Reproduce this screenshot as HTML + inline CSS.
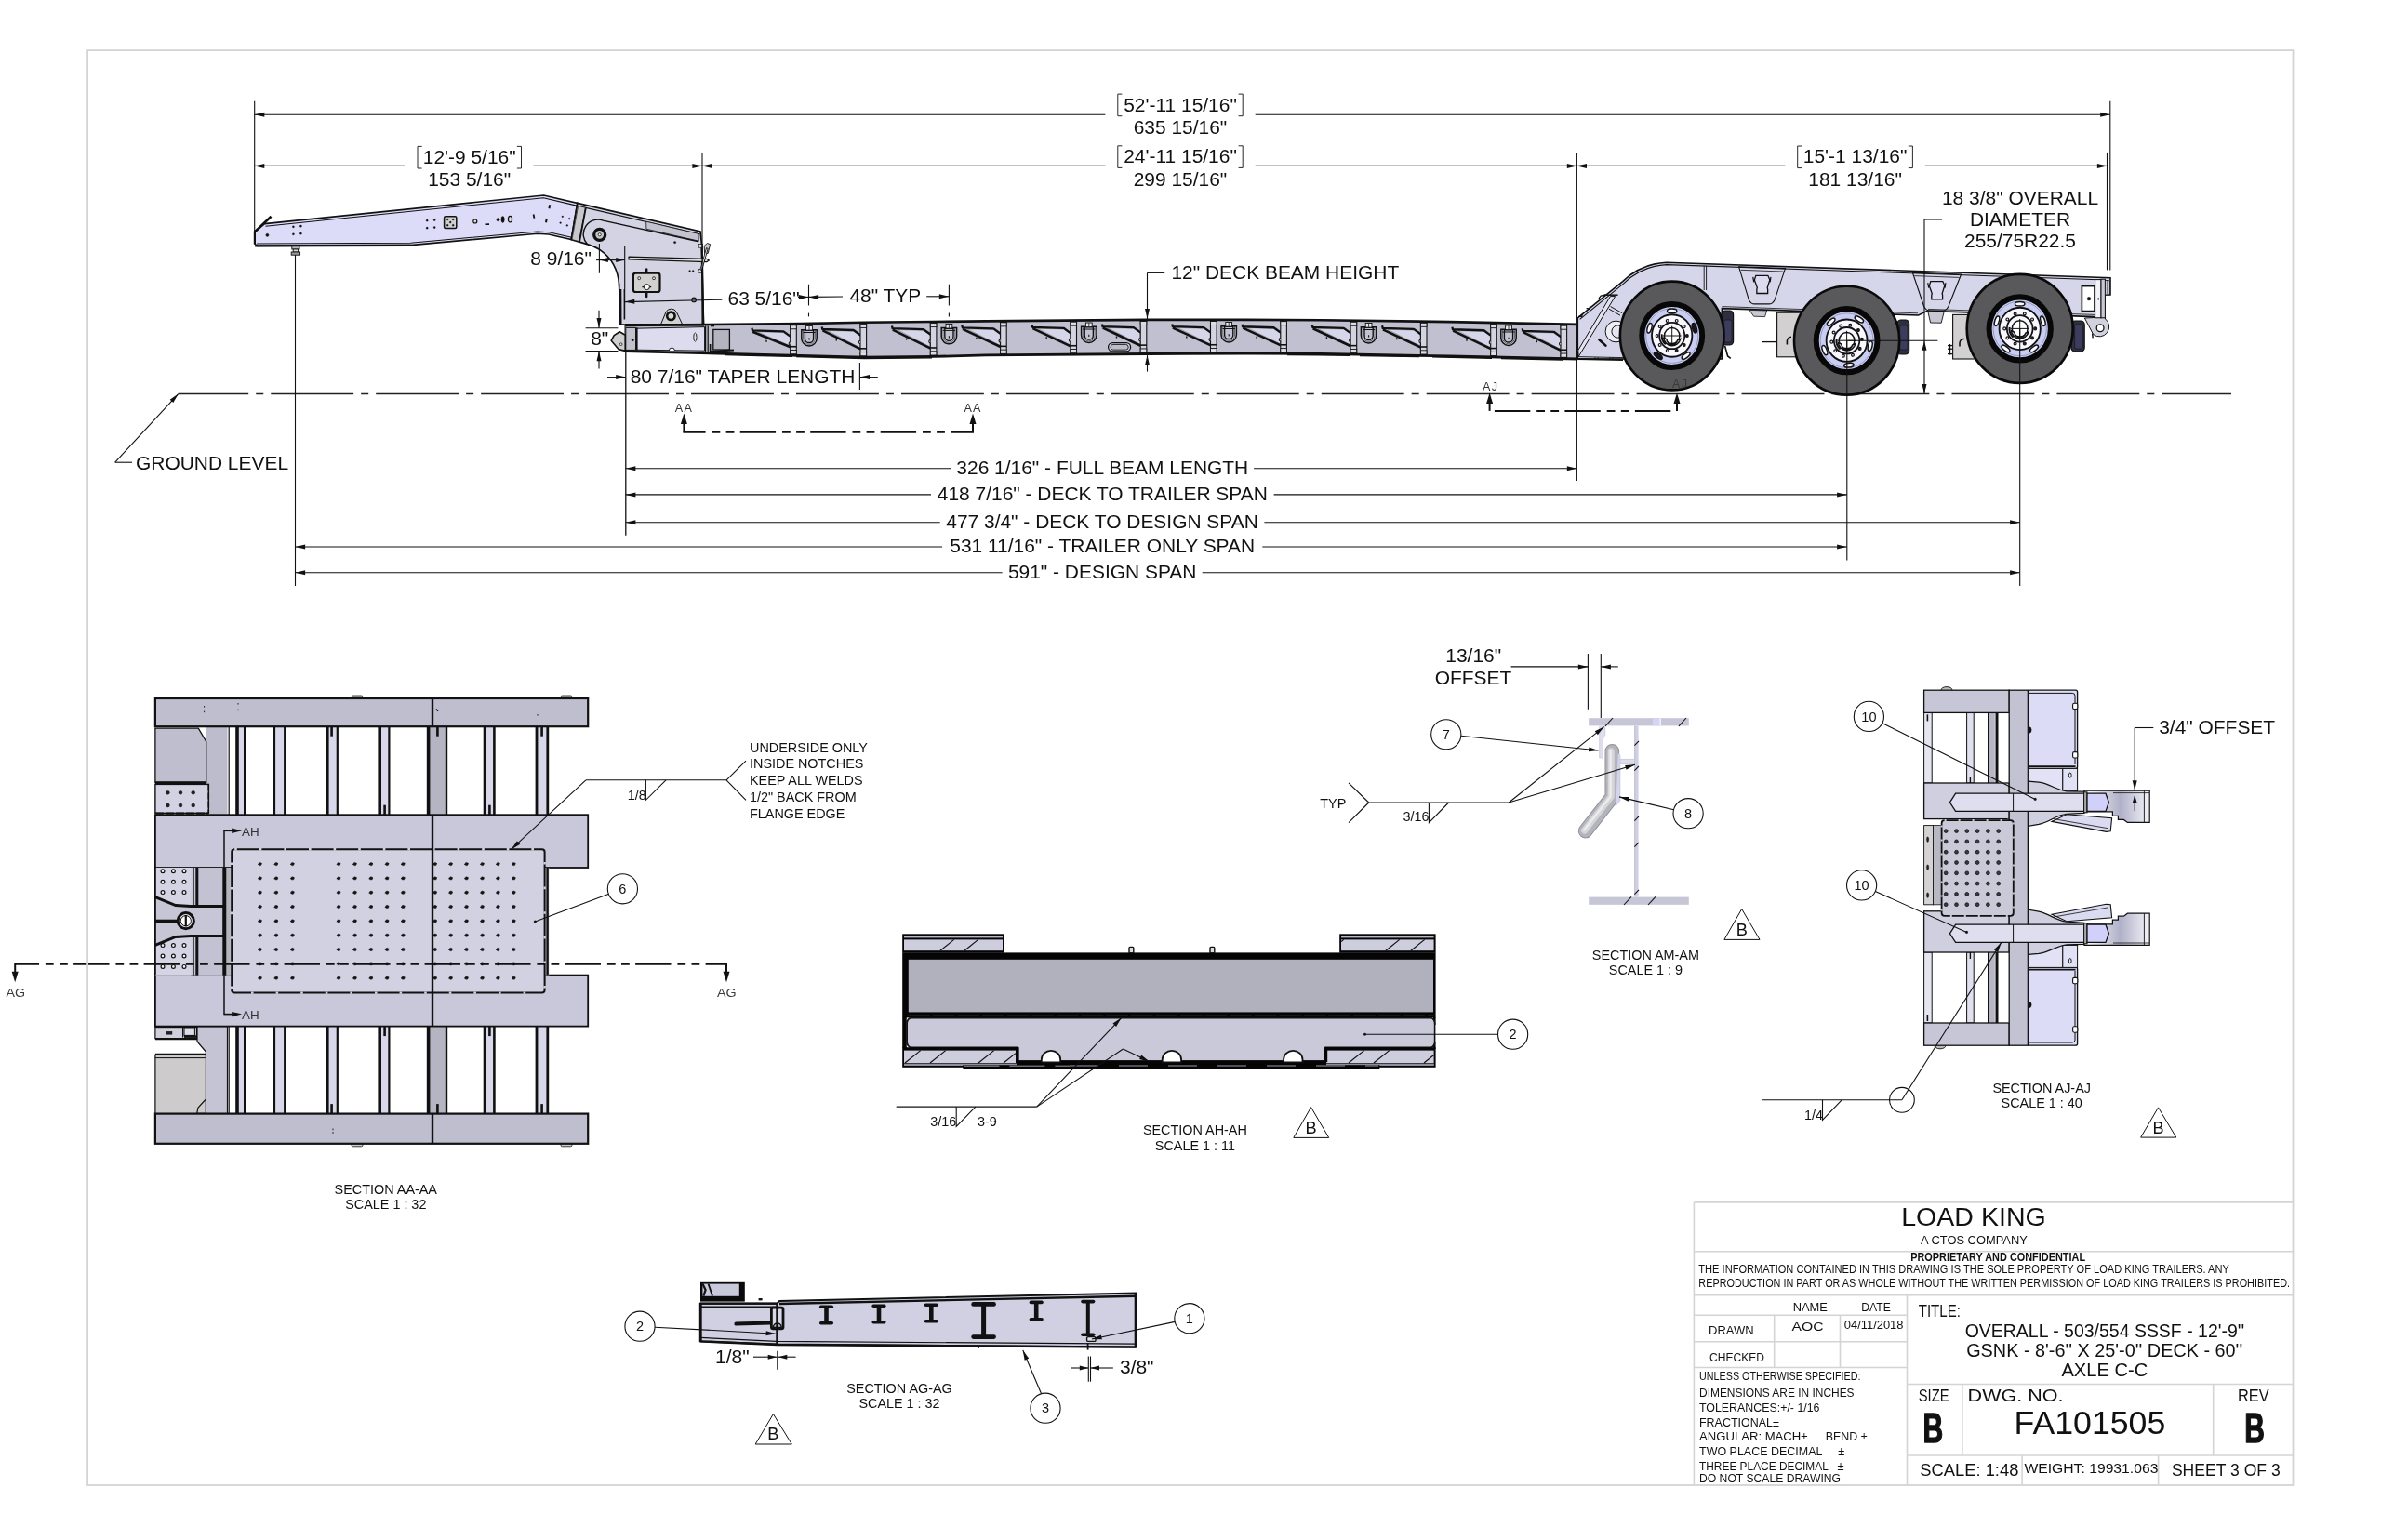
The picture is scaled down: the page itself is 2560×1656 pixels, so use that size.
<!DOCTYPE html>
<html lang="en"><head><meta charset="utf-8"><title>FA101505 - OVERALL - 503/554 SSSF - Sheet 3 of 3</title>
<style>
html,body{margin:0;padding:0;background:#fff;}
body{width:2560px;height:1656px;overflow:hidden;}
svg{display:block;font-family:"Liberation Sans",sans-serif;will-change:transform;}
</style></head><body>
<svg width="2560" height="1656" viewBox="0 0 2560 1656">
<rect x="0" y="0" width="2560" height="1656" fill="#ffffff"/>
<defs><radialGradient id="rim" cx="0.5" cy="0.5" r="0.5"><stop offset="0.55" stop-color="#eef0ff"/><stop offset="0.8" stop-color="#b9bde8"/><stop offset="1" stop-color="#8d90c0"/></radialGradient><linearGradient id="hookg" x1="0" y1="0" x2="1" y2="0"><stop offset="0" stop-color="#a8a8b0"/><stop offset="0.5" stop-color="#e4e4e8"/><stop offset="1" stop-color="#b4b4bc"/></linearGradient><linearGradient id="cylg" x1="0" y1="0" x2="1" y2="0"><stop offset="0" stop-color="#ffffff"/><stop offset="0.55" stop-color="#b0b0c8"/><stop offset="1" stop-color="#f4f4fa"/></linearGradient></defs>
<line x1="191.7" y1="423.6" x2="2399" y2="423.6" stroke="#222" stroke-width="1.5" stroke-dasharray="88.9 8 8.05 8" stroke-dashoffset="13.4"/>
<polygon points="273.8,249 284.5,240.6 584.6,210 620.8,218.4 614.2,257.6 590,252 577.8,251.3 441.6,263.6 276.5,264.4 273.8,262" fill="#dcdcf8" stroke="#111" stroke-width="1.6"/>
<polyline points="285.5,243.2 584.3,212.7 620,221.1" fill="none" stroke="#111" stroke-width="1.1"/>
<polyline points="276,262 441.4,261.2 577.6,249 590.3,249.7 614.6,255.2" fill="none" stroke="#111" stroke-width="1.1"/>
<line x1="274.2" y1="264.4" x2="441.6" y2="263.8" stroke="#111" stroke-width="2.4"/>
<line x1="273.9" y1="248.6" x2="273.9" y2="262.5" stroke="#111" stroke-width="2.2"/>
<line x1="273.8" y1="249.5" x2="291.5" y2="232.8" stroke="#111" stroke-width="2.6"/>
<rect x="313.8" y="264.8" width="8.2" height="3.2" fill="#bbb" stroke="#111" stroke-width="0.9"/>
<rect x="315.2" y="268" width="5.4" height="3" fill="#ddd" stroke="#111" stroke-width="0.9"/>
<rect x="313.2" y="271" width="9.4" height="3.2" fill="#999" stroke="#111" stroke-width="0.9"/>
<circle cx="287.4" cy="252.8" r="1.6" fill="#111" stroke="#111" stroke-width="0.4"/>
<circle cx="315.4" cy="243.8" r="1.1" fill="#111" stroke="#111" stroke-width="0.3"/>
<circle cx="315.4" cy="251.8" r="1.1" fill="#111" stroke="#111" stroke-width="0.3"/>
<circle cx="323.4" cy="243.16" r="1.1" fill="#111" stroke="#111" stroke-width="0.3"/>
<circle cx="323.4" cy="251.16" r="1.1" fill="#111" stroke="#111" stroke-width="0.3"/>
<circle cx="459.2" cy="237.2" r="1.1" fill="#111" stroke="#111" stroke-width="0.3"/>
<circle cx="459.2" cy="245.2" r="1.1" fill="#111" stroke="#111" stroke-width="0.3"/>
<circle cx="467.2" cy="236.56" r="1.1" fill="#111" stroke="#111" stroke-width="0.3"/>
<circle cx="467.2" cy="244.56" r="1.1" fill="#111" stroke="#111" stroke-width="0.3"/>
<rect x="477.6" y="232.8" width="13.2" height="12.6" fill="#d0d0d0" stroke="#111" stroke-width="1.5" rx="1.5"/>
<circle cx="481.2" cy="236" r="1" fill="#111" stroke="#111" stroke-width="0.3"/>
<circle cx="487.2" cy="236" r="1" fill="#111" stroke="#111" stroke-width="0.3"/>
<circle cx="484.2" cy="239.1" r="1" fill="#111" stroke="#111" stroke-width="0.3"/>
<circle cx="481.2" cy="242.2" r="1" fill="#111" stroke="#111" stroke-width="0.3"/>
<circle cx="487.2" cy="242.2" r="1" fill="#111" stroke="#111" stroke-width="0.3"/>
<circle cx="510.8" cy="238" r="2" fill="#ddd" stroke="#111" stroke-width="1.2"/>
<line x1="521.5" y1="241.3" x2="526" y2="241.1" stroke="#111" stroke-width="1.6"/>
<circle cx="535.5" cy="236.2" r="1.6" fill="#111" stroke="#111" stroke-width="0.4"/>
<ellipse cx="540.6" cy="236" rx="1.7" ry="3.4" fill="#111" stroke="#111" stroke-width="0.4"/>
<ellipse cx="548.5" cy="235.6" rx="2.1" ry="3.3" fill="#ddd" stroke="#111" stroke-width="1.2"/>
<line x1="573.6" y1="230.5" x2="574.4" y2="234.6" stroke="#111" stroke-width="1.8"/>
<line x1="591.2" y1="220.2" x2="590.4" y2="224.2" stroke="#111" stroke-width="2"/>
<line x1="587.8" y1="235" x2="587" y2="239.2" stroke="#111" stroke-width="2"/>
<circle cx="604.8" cy="232.8" r="0.9" fill="#111" stroke="#111" stroke-width="0.3"/>
<circle cx="612.2" cy="235.2" r="0.9" fill="#111" stroke="#111" stroke-width="0.3"/>
<circle cx="602.6" cy="239.6" r="0.9" fill="#111" stroke="#111" stroke-width="0.3"/>
<circle cx="609.8" cy="242.4" r="0.9" fill="#111" stroke="#111" stroke-width="0.3"/>
<path d="M620.8,218.4 L753,249 L754.4,262 L756.4,349.2 L666.9,349.2 L665.6,306 C664.6,290 657,277 645,268.6 C640,265.4 634,263.2 628,261.6 L614.2,257.6 Z" fill="#d3d3e3" stroke="#111" stroke-width="1.7" />
<line x1="667" y1="311" x2="667.2" y2="349" stroke="#111" stroke-width="2.6"/>
<line x1="754.6" y1="262" x2="756.2" y2="349" stroke="#111" stroke-width="2.2"/>
<polyline points="620,221.1 752.4,251.8" fill="none" stroke="#111" stroke-width="1.1"/>
<polygon points="621.6,221.4 629.6,223.3 622.8,259.6 615,257.6" fill="#c8c8cc" stroke="#111" stroke-width="0.7"/>
<line x1="629.8" y1="223.3" x2="623" y2="259.8" stroke="#111" stroke-width="1.9"/>
<polygon points="694.7,238.2 751,251.4 751.2,259.2 694.9,246.2" fill="#c4c4d0" stroke="#111" stroke-width="0.8"/>
<path d="M631.4,262.4 A15.6,15.6 0 0 1 648.4,237.2 L751.2,259.8" fill="none" stroke="#111" stroke-width="1.4" />
<circle cx="644.7" cy="252.3" r="6" fill="#c8c8c8" stroke="#111" stroke-width="3.2"/>
<circle cx="644.7" cy="252.3" r="1.6" fill="#eee" stroke="#111" stroke-width="0.8"/>
<circle cx="725.6" cy="260.6" r="1.2" fill="#111" stroke="#111" stroke-width="0.3"/>
<circle cx="741.6" cy="291.4" r="0.9" fill="#111" stroke="#111" stroke-width="0.3"/>
<circle cx="745.2" cy="291.4" r="0.9" fill="#111" stroke="#111" stroke-width="0.3"/>
<circle cx="752.6" cy="291.4" r="2" fill="none" stroke="#111" stroke-width="1"/>
<circle cx="665.4" cy="306.5" r="0.9" fill="#111" stroke="#111" stroke-width="0.3"/>
<polygon points="676,276.2 760,278.4 762.4,280 760,281.6 676,279" fill="#dcdcdc" stroke="#111" stroke-width="1.2" stroke-linejoin="round"/>
<polygon points="757.2,264.4 760.4,261.6 763.6,262.6 761.2,272.4 757.6,272.6" fill="#ccc" stroke="#111" stroke-width="0.9"/>
<line x1="760.4" y1="266.6" x2="753.8" y2="290.4" stroke="#111" stroke-width="2.6"/>
<line x1="760.2" y1="267.4" x2="753.9" y2="289.6" stroke="#ddd" stroke-width="1"/>
<rect x="751.2" y="262.6" width="3.6" height="3.6" fill="#e8e8e8" stroke="#111" stroke-width="0.7"/>
<line x1="695.2" y1="289.4" x2="695.2" y2="319" stroke="#111" stroke-width="2.4" stroke-linecap="round"/>
<rect x="680.9" y="293.6" width="28.6" height="20.4" fill="#d3d1cf" stroke="#111" stroke-width="2.2" rx="2.6"/>
<circle cx="687.2" cy="299.2" r="1.5" fill="#e8e8e8" stroke="#111" stroke-width="0.8"/>
<circle cx="703" cy="299.2" r="1.5" fill="#e8e8e8" stroke="#111" stroke-width="0.8"/>
<line x1="690.4" y1="308.6" x2="700.2" y2="308.6" stroke="#111" stroke-width="1.3"/>
<circle cx="695.4" cy="308.6" r="3" fill="#fff" stroke="#111" stroke-width="1"/>
<circle cx="746.1" cy="322.4" r="2.3" fill="#c0c0c8" stroke="#111" stroke-width="1.1"/>
<path d="M710.4,349 L716,335.6 A6.4,6.4 0 0 1 727.4,335.6 L733.8,349" fill="#d0d0d4" stroke="#111" stroke-width="1" />
<circle cx="721.4" cy="339.8" r="4.2" fill="#d8d8d8" stroke="#111" stroke-width="2.6"/>
<line x1="671.4" y1="311" x2="671.4" y2="343.5" stroke="#111" stroke-width="1.6"/>
<polygon points="672,349.9 860,348.1 928,346.8 1003,346 1060,345.4 1233,343.9 1340,343.9 1420,344.2 1558.6,346.1 1696.3,348.9 1696.3,386 1558.6,382.9 1420,380.4 1340,380 1233,380.5 1060,381.9 1003,383.4 928,384.2 860,382.3 672,377.6" fill="#c0c0d0" stroke="#111" stroke-width="1"/>
<polygon points="683.6,353.2 757.6,351.6 757.6,377.2 683.6,376.2" fill="#dcdcee" stroke="#111" stroke-width="1"/>
<polygon points="672.8,352.4 683.6,352.4 683.6,376.4 672.8,376.4" fill="#c2c2ce" stroke="#111" stroke-width="1"/>
<line x1="684.6" y1="352.4" x2="684.6" y2="376.6" stroke="#111" stroke-width="2"/>
<circle cx="680.2" cy="365.6" r="1.3" fill="#111" stroke="#111" stroke-width="0.3"/>
<ellipse cx="747.4" cy="362.6" rx="1.6" ry="4.6" fill="#e4e4f0" stroke="#111" stroke-width="0.9"/>
<path d="M719.4,377 A3,3 0 0 1 725.4,377" fill="#fff" stroke="#111" stroke-width="0.9" />
<line x1="758.6" y1="350.6" x2="758.6" y2="379.2" stroke="#111" stroke-width="1.2"/>
<line x1="761.2" y1="350.6" x2="761.2" y2="379.2" stroke="#111" stroke-width="1.2"/>
<rect x="766.8" y="354.4" width="17.6" height="21.6" fill="#b4b4c0" stroke="#111" stroke-width="1.3"/>
<line x1="763.6" y1="370" x2="763.6" y2="378.2" stroke="#111" stroke-width="1.6"/>
<line x1="763" y1="378" x2="789" y2="376.4" stroke="#111" stroke-width="2"/>
<line x1="764" y1="350.2" x2="768" y2="350.2" stroke="#111" stroke-width="2.2"/>
<polygon points="657.2,366.2 660.2,360.6 666.2,356.8 672.2,360.2 672.2,377.4 665,375.6" fill="#d0cfcf" stroke="#111" stroke-width="1.6" stroke-linejoin="round"/>
<circle cx="667.6" cy="370.2" r="1.4" fill="#e8e8e8" stroke="#111" stroke-width="0.8"/>
<polygon points="814.4,356.77 842.6,357.57 849.4,362.37 849.4,371.73" fill="#d6d6ea" stroke="#777" stroke-width="0.5"/>
<polyline points="808.4,352.77 809,355.37 842.4,356.37 850.4,362.17" fill="none" stroke="#111" stroke-width="2.3" stroke-linejoin="round"/>
<line x1="809.2" y1="356.77" x2="850" y2="373.32" stroke="#111" stroke-width="2.6"/>
<line x1="824" y1="365.77" x2="824" y2="367.77" stroke="#111" stroke-width="1.4"/>
<rect x="849.7" y="349.37" width="6.6" height="31.76" fill="#d4d4e0" stroke="#111" stroke-width="1.1"/>
<rect x="849.7" y="349.77" width="6.6" height="4" fill="#dcdce4" stroke="#111" stroke-width="0.9"/>
<rect x="849.7" y="376.52" width="6.6" height="4.2" fill="#dcdce4" stroke="#111" stroke-width="0.9"/>
<line x1="849.6" y1="372.73" x2="856.4" y2="372.73" stroke="#111" stroke-width="1.6"/>
<path d="M849.6,367.77 a1.4,1.6 0 0 0 0,3.2" fill="#e4e4ee" stroke="#111" stroke-width="1.1" />
<polygon points="889.7,355.4 917.9,356.2 924.7,361 924.7,373.8" fill="#d6d6ea" stroke="#777" stroke-width="0.5"/>
<polyline points="883.7,351.4 884.3,354 917.7,355 925.7,360.8" fill="none" stroke="#111" stroke-width="2.3" stroke-linejoin="round"/>
<line x1="884.5" y1="355.4" x2="925.3" y2="375.4" stroke="#111" stroke-width="2.6"/>
<line x1="899.3" y1="364.4" x2="899.3" y2="366.4" stroke="#111" stroke-width="1.4"/>
<rect x="925" y="348" width="6.6" height="35.2" fill="#d4d4e0" stroke="#111" stroke-width="1.1"/>
<rect x="925" y="348.4" width="6.6" height="4" fill="#dcdce4" stroke="#111" stroke-width="0.9"/>
<rect x="925" y="378.6" width="6.6" height="4.2" fill="#dcdce4" stroke="#111" stroke-width="0.9"/>
<line x1="924.9" y1="374.8" x2="931.7" y2="374.8" stroke="#111" stroke-width="1.6"/>
<path d="M924.9,366.4 a1.4,1.6 0 0 0 0,3.2" fill="#e4e4ee" stroke="#111" stroke-width="1.1" />
<polygon points="965,354.6 993.2,355.4 1000,360.2 1000,372.98" fill="#d6d6ea" stroke="#777" stroke-width="0.5"/>
<polyline points="959,350.6 959.6,353.2 993,354.2 1001,360" fill="none" stroke="#111" stroke-width="2.3" stroke-linejoin="round"/>
<line x1="959.8" y1="354.6" x2="1000.6" y2="374.58" stroke="#111" stroke-width="2.6"/>
<line x1="974.6" y1="363.6" x2="974.6" y2="365.6" stroke="#111" stroke-width="1.4"/>
<rect x="1000.3" y="347.2" width="6.6" height="35.19" fill="#d4d4e0" stroke="#111" stroke-width="1.1"/>
<rect x="1000.3" y="347.6" width="6.6" height="4" fill="#dcdce4" stroke="#111" stroke-width="0.9"/>
<rect x="1000.3" y="377.78" width="6.6" height="4.2" fill="#dcdce4" stroke="#111" stroke-width="0.9"/>
<line x1="1000.2" y1="373.98" x2="1007" y2="373.98" stroke="#111" stroke-width="1.6"/>
<path d="M1000.2,365.6 a1.4,1.6 0 0 0 0,3.2" fill="#e4e4ee" stroke="#111" stroke-width="1.1" />
<polygon points="1040.3,353.84 1068.5,354.64 1075.3,359.44 1075.3,371.35" fill="#d6d6ea" stroke="#777" stroke-width="0.5"/>
<polyline points="1034.3,349.84 1034.9,352.44 1068.3,353.44 1076.3,359.24" fill="none" stroke="#111" stroke-width="2.3" stroke-linejoin="round"/>
<line x1="1035.1" y1="353.84" x2="1075.9" y2="372.95" stroke="#111" stroke-width="2.6"/>
<line x1="1049.9" y1="362.84" x2="1049.9" y2="364.84" stroke="#111" stroke-width="1.4"/>
<rect x="1075.6" y="346.44" width="6.6" height="34.31" fill="#d4d4e0" stroke="#111" stroke-width="1.1"/>
<rect x="1075.6" y="346.84" width="6.6" height="4" fill="#dcdce4" stroke="#111" stroke-width="0.9"/>
<rect x="1075.6" y="376.15" width="6.6" height="4.2" fill="#dcdce4" stroke="#111" stroke-width="0.9"/>
<line x1="1075.5" y1="372.35" x2="1082.3" y2="372.35" stroke="#111" stroke-width="1.6"/>
<path d="M1075.5,364.84 a1.4,1.6 0 0 0 0,3.2" fill="#e4e4ee" stroke="#111" stroke-width="1.1" />
<polygon points="1115.6,353.18 1143.8,353.98 1150.6,358.78 1150.6,370.74" fill="#d6d6ea" stroke="#777" stroke-width="0.5"/>
<polyline points="1109.6,349.18 1110.2,351.78 1143.6,352.78 1151.6,358.58" fill="none" stroke="#111" stroke-width="2.3" stroke-linejoin="round"/>
<line x1="1110.4" y1="353.18" x2="1151.2" y2="372.34" stroke="#111" stroke-width="2.6"/>
<line x1="1125.2" y1="362.18" x2="1125.2" y2="364.18" stroke="#111" stroke-width="1.4"/>
<rect x="1150.9" y="345.78" width="6.6" height="34.35" fill="#d4d4e0" stroke="#111" stroke-width="1.1"/>
<rect x="1150.9" y="346.18" width="6.6" height="4" fill="#dcdce4" stroke="#111" stroke-width="0.9"/>
<rect x="1150.9" y="375.54" width="6.6" height="4.2" fill="#dcdce4" stroke="#111" stroke-width="0.9"/>
<line x1="1150.8" y1="371.74" x2="1157.6" y2="371.74" stroke="#111" stroke-width="1.6"/>
<path d="M1150.8,364.18 a1.4,1.6 0 0 0 0,3.2" fill="#e4e4ee" stroke="#111" stroke-width="1.1" />
<polygon points="1190.9,352.53 1219.1,353.33 1225.9,358.13 1225.9,370.13" fill="#d6d6ea" stroke="#777" stroke-width="0.5"/>
<polyline points="1184.9,348.53 1185.5,351.13 1218.9,352.13 1226.9,357.93" fill="none" stroke="#111" stroke-width="2.3" stroke-linejoin="round"/>
<line x1="1185.7" y1="352.53" x2="1226.5" y2="371.73" stroke="#111" stroke-width="2.6"/>
<line x1="1200.5" y1="361.53" x2="1200.5" y2="363.53" stroke="#111" stroke-width="1.4"/>
<rect x="1226.2" y="345.13" width="6.6" height="34.4" fill="#d4d4e0" stroke="#111" stroke-width="1.1"/>
<rect x="1226.2" y="345.53" width="6.6" height="4" fill="#dcdce4" stroke="#111" stroke-width="0.9"/>
<rect x="1226.2" y="374.93" width="6.6" height="4.2" fill="#dcdce4" stroke="#111" stroke-width="0.9"/>
<line x1="1226.1" y1="371.13" x2="1232.9" y2="371.13" stroke="#111" stroke-width="1.6"/>
<path d="M1226.1,363.53 a1.4,1.6 0 0 0 0,3.2" fill="#e4e4ee" stroke="#111" stroke-width="1.1" />
<polygon points="1266.2,352.5 1294.4,353.3 1301.2,358.1 1301.2,369.76" fill="#d6d6ea" stroke="#777" stroke-width="0.5"/>
<polyline points="1260.2,348.5 1260.8,351.1 1294.2,352.1 1302.2,357.9" fill="none" stroke="#111" stroke-width="2.3" stroke-linejoin="round"/>
<line x1="1261" y1="352.5" x2="1301.8" y2="371.36" stroke="#111" stroke-width="2.6"/>
<line x1="1275.8" y1="361.5" x2="1275.8" y2="363.5" stroke="#111" stroke-width="1.4"/>
<rect x="1301.5" y="345.1" width="6.6" height="34.06" fill="#d4d4e0" stroke="#111" stroke-width="1.1"/>
<rect x="1301.5" y="345.5" width="6.6" height="4" fill="#dcdce4" stroke="#111" stroke-width="0.9"/>
<rect x="1301.5" y="374.56" width="6.6" height="4.2" fill="#dcdce4" stroke="#111" stroke-width="0.9"/>
<line x1="1301.4" y1="370.76" x2="1308.2" y2="370.76" stroke="#111" stroke-width="1.6"/>
<path d="M1301.4,363.5 a1.4,1.6 0 0 0 0,3.2" fill="#e4e4ee" stroke="#111" stroke-width="1.1" />
<polygon points="1341.5,352.65 1369.7,353.45 1376.5,358.25 1376.5,369.8" fill="#d6d6ea" stroke="#777" stroke-width="0.5"/>
<polyline points="1335.5,348.65 1336.1,351.25 1369.5,352.25 1377.5,358.05" fill="none" stroke="#111" stroke-width="2.3" stroke-linejoin="round"/>
<line x1="1336.3" y1="352.65" x2="1377.1" y2="371.4" stroke="#111" stroke-width="2.6"/>
<line x1="1351.1" y1="361.65" x2="1351.1" y2="363.65" stroke="#111" stroke-width="1.4"/>
<rect x="1376.8" y="345.25" width="6.6" height="33.95" fill="#d4d4e0" stroke="#111" stroke-width="1.1"/>
<rect x="1376.8" y="345.65" width="6.6" height="4" fill="#dcdce4" stroke="#111" stroke-width="0.9"/>
<rect x="1376.8" y="374.6" width="6.6" height="4.2" fill="#dcdce4" stroke="#111" stroke-width="0.9"/>
<line x1="1376.7" y1="370.8" x2="1383.5" y2="370.8" stroke="#111" stroke-width="1.6"/>
<path d="M1376.7,363.65 a1.4,1.6 0 0 0 0,3.2" fill="#e4e4ee" stroke="#111" stroke-width="1.1" />
<polygon points="1416.8,353.29 1445,354.09 1451.8,358.89 1451.8,370.64" fill="#d6d6ea" stroke="#777" stroke-width="0.5"/>
<polyline points="1410.8,349.29 1411.4,351.89 1444.8,352.89 1452.8,358.69" fill="none" stroke="#111" stroke-width="2.3" stroke-linejoin="round"/>
<line x1="1411.6" y1="353.29" x2="1452.4" y2="372.24" stroke="#111" stroke-width="2.6"/>
<line x1="1426.4" y1="362.29" x2="1426.4" y2="364.29" stroke="#111" stroke-width="1.4"/>
<rect x="1452.1" y="345.89" width="6.6" height="34.15" fill="#d4d4e0" stroke="#111" stroke-width="1.1"/>
<rect x="1452.1" y="346.29" width="6.6" height="4" fill="#dcdce4" stroke="#111" stroke-width="0.9"/>
<rect x="1452.1" y="375.44" width="6.6" height="4.2" fill="#dcdce4" stroke="#111" stroke-width="0.9"/>
<line x1="1452" y1="371.64" x2="1458.8" y2="371.64" stroke="#111" stroke-width="1.6"/>
<path d="M1452,364.29 a1.4,1.6 0 0 0 0,3.2" fill="#e4e4ee" stroke="#111" stroke-width="1.1" />
<polygon points="1492.1,354.32 1520.3,355.12 1527.1,359.92 1527.1,372" fill="#d6d6ea" stroke="#777" stroke-width="0.5"/>
<polyline points="1486.1,350.32 1486.7,352.92 1520.1,353.92 1528.1,359.72" fill="none" stroke="#111" stroke-width="2.3" stroke-linejoin="round"/>
<line x1="1486.9" y1="354.32" x2="1527.7" y2="373.6" stroke="#111" stroke-width="2.6"/>
<line x1="1501.7" y1="363.32" x2="1501.7" y2="365.32" stroke="#111" stroke-width="1.4"/>
<rect x="1527.4" y="346.92" width="6.6" height="34.48" fill="#d4d4e0" stroke="#111" stroke-width="1.1"/>
<rect x="1527.4" y="347.32" width="6.6" height="4" fill="#dcdce4" stroke="#111" stroke-width="0.9"/>
<rect x="1527.4" y="376.8" width="6.6" height="4.2" fill="#dcdce4" stroke="#111" stroke-width="0.9"/>
<line x1="1527.3" y1="373" x2="1534.1" y2="373" stroke="#111" stroke-width="1.6"/>
<path d="M1527.3,365.32 a1.4,1.6 0 0 0 0,3.2" fill="#e4e4ee" stroke="#111" stroke-width="1.1" />
<polygon points="1567.4,355.66 1595.6,356.46 1602.4,361.26 1602.4,373.57" fill="#d6d6ea" stroke="#777" stroke-width="0.5"/>
<polyline points="1561.4,351.66 1562,354.26 1595.4,355.26 1603.4,361.06" fill="none" stroke="#111" stroke-width="2.3" stroke-linejoin="round"/>
<line x1="1562.2" y1="355.66" x2="1603" y2="375.17" stroke="#111" stroke-width="2.6"/>
<line x1="1577" y1="364.66" x2="1577" y2="366.66" stroke="#111" stroke-width="1.4"/>
<rect x="1602.7" y="348.26" width="6.6" height="34.7" fill="#d4d4e0" stroke="#111" stroke-width="1.1"/>
<rect x="1602.7" y="348.66" width="6.6" height="4" fill="#dcdce4" stroke="#111" stroke-width="0.9"/>
<rect x="1602.7" y="378.37" width="6.6" height="4.2" fill="#dcdce4" stroke="#111" stroke-width="0.9"/>
<line x1="1602.6" y1="374.57" x2="1609.4" y2="374.57" stroke="#111" stroke-width="1.6"/>
<path d="M1602.6,366.66 a1.4,1.6 0 0 0 0,3.2" fill="#e4e4ee" stroke="#111" stroke-width="1.1" />
<polygon points="1642.7,357.19 1670.9,357.99 1677.7,362.79 1677.7,375.26" fill="#d6d6ea" stroke="#777" stroke-width="0.5"/>
<polyline points="1636.7,353.19 1637.3,355.79 1670.7,356.79 1678.7,362.59" fill="none" stroke="#111" stroke-width="2.3" stroke-linejoin="round"/>
<line x1="1637.5" y1="357.19" x2="1678.3" y2="376.86" stroke="#111" stroke-width="2.6"/>
<line x1="1652.3" y1="366.19" x2="1652.3" y2="368.19" stroke="#111" stroke-width="1.4"/>
<rect x="1678" y="349.79" width="6.6" height="34.87" fill="#d4d4e0" stroke="#111" stroke-width="1.1"/>
<rect x="1678" y="350.19" width="6.6" height="4" fill="#dcdce4" stroke="#111" stroke-width="0.9"/>
<rect x="1678" y="380.06" width="6.6" height="4.2" fill="#dcdce4" stroke="#111" stroke-width="0.9"/>
<line x1="1677.9" y1="376.26" x2="1684.7" y2="376.26" stroke="#111" stroke-width="1.6"/>
<path d="M1677.9,368.19 a1.4,1.6 0 0 0 0,3.2" fill="#e4e4ee" stroke="#111" stroke-width="1.1" />
<path d="M861.8,354.71 v9 a8.2,8.2 0 0 0 16.4,0 v-9 Z" fill="#d6d6e4" stroke="#111" stroke-width="1.5" />
<path d="M865.4,355.31 v8.6 a4.6,4.6 0 0 0 9.2,0 v-8.6 Z" fill="#c2c2d2" stroke="#111" stroke-width="1.4" />
<path d="M863.6,354.91 v9 a6.4,6.4 0 0 0 12.8,0 v-9" fill="none" stroke="#111" stroke-width="0.6" />
<rect x="866.6" y="350.51" width="6.8" height="4.6" fill="#ececf4" stroke="#111" stroke-width="0.9"/>
<line x1="870" y1="350.71" x2="870" y2="354.91" stroke="#111" stroke-width="0.8"/>
<line x1="863.4" y1="357.51" x2="876.6" y2="357.51" stroke="#111" stroke-width="1"/>
<line x1="870" y1="363.31" x2="870" y2="365.51" stroke="#111" stroke-width="1.1"/>
<path d="M1012.2,352.62 v9 a8.2,8.2 0 0 0 16.4,0 v-9 Z" fill="#d6d6e4" stroke="#111" stroke-width="1.5" />
<path d="M1015.8,353.22 v8.6 a4.6,4.6 0 0 0 9.2,0 v-8.6 Z" fill="#c2c2d2" stroke="#111" stroke-width="1.4" />
<path d="M1014,352.82 v9 a6.4,6.4 0 0 0 12.8,0 v-9" fill="none" stroke="#111" stroke-width="0.6" />
<rect x="1017" y="348.42" width="6.8" height="4.6" fill="#ececf4" stroke="#111" stroke-width="0.9"/>
<line x1="1020.4" y1="348.62" x2="1020.4" y2="352.82" stroke="#111" stroke-width="0.8"/>
<line x1="1013.8" y1="355.42" x2="1027" y2="355.42" stroke="#111" stroke-width="1"/>
<line x1="1020.4" y1="361.22" x2="1020.4" y2="363.42" stroke="#111" stroke-width="1.1"/>
<path d="M1162.6,351.24 v9 a8.2,8.2 0 0 0 16.4,0 v-9 Z" fill="#d6d6e4" stroke="#111" stroke-width="1.5" />
<path d="M1166.2,351.84 v8.6 a4.6,4.6 0 0 0 9.2,0 v-8.6 Z" fill="#c2c2d2" stroke="#111" stroke-width="1.4" />
<path d="M1164.4,351.44 v9 a6.4,6.4 0 0 0 12.8,0 v-9" fill="none" stroke="#111" stroke-width="0.6" />
<rect x="1167.4" y="347.04" width="6.8" height="4.6" fill="#ececf4" stroke="#111" stroke-width="0.9"/>
<line x1="1170.8" y1="347.24" x2="1170.8" y2="351.44" stroke="#111" stroke-width="0.8"/>
<line x1="1164.2" y1="354.04" x2="1177.4" y2="354.04" stroke="#111" stroke-width="1"/>
<line x1="1170.8" y1="359.84" x2="1170.8" y2="362.04" stroke="#111" stroke-width="1.1"/>
<path d="M1313,350.7 v9 a8.2,8.2 0 0 0 16.4,0 v-9 Z" fill="#d6d6e4" stroke="#111" stroke-width="1.5" />
<path d="M1316.6,351.3 v8.6 a4.6,4.6 0 0 0 9.2,0 v-8.6 Z" fill="#c2c2d2" stroke="#111" stroke-width="1.4" />
<path d="M1314.8,350.9 v9 a6.4,6.4 0 0 0 12.8,0 v-9" fill="none" stroke="#111" stroke-width="0.6" />
<rect x="1317.8" y="346.5" width="6.8" height="4.6" fill="#ececf4" stroke="#111" stroke-width="0.9"/>
<line x1="1321.2" y1="346.7" x2="1321.2" y2="350.9" stroke="#111" stroke-width="0.8"/>
<line x1="1314.6" y1="353.5" x2="1327.8" y2="353.5" stroke="#111" stroke-width="1"/>
<line x1="1321.2" y1="359.3" x2="1321.2" y2="361.5" stroke="#111" stroke-width="1.1"/>
<path d="M1463.4,351.71 v9 a8.2,8.2 0 0 0 16.4,0 v-9 Z" fill="#d6d6e4" stroke="#111" stroke-width="1.5" />
<path d="M1467,352.31 v8.6 a4.6,4.6 0 0 0 9.2,0 v-8.6 Z" fill="#c2c2d2" stroke="#111" stroke-width="1.4" />
<path d="M1465.2,351.91 v9 a6.4,6.4 0 0 0 12.8,0 v-9" fill="none" stroke="#111" stroke-width="0.6" />
<rect x="1468.2" y="347.51" width="6.8" height="4.6" fill="#ececf4" stroke="#111" stroke-width="0.9"/>
<line x1="1471.6" y1="347.71" x2="1471.6" y2="351.91" stroke="#111" stroke-width="0.8"/>
<line x1="1465" y1="354.51" x2="1478.2" y2="354.51" stroke="#111" stroke-width="1"/>
<line x1="1471.6" y1="360.31" x2="1471.6" y2="362.51" stroke="#111" stroke-width="1.1"/>
<path d="M1613.8,354.19 v9 a8.2,8.2 0 0 0 16.4,0 v-9 Z" fill="#d6d6e4" stroke="#111" stroke-width="1.5" />
<path d="M1617.4,354.79 v8.6 a4.6,4.6 0 0 0 9.2,0 v-8.6 Z" fill="#c2c2d2" stroke="#111" stroke-width="1.4" />
<path d="M1615.6,354.39 v9 a6.4,6.4 0 0 0 12.8,0 v-9" fill="none" stroke="#111" stroke-width="0.6" />
<rect x="1618.6" y="349.99" width="6.8" height="4.6" fill="#ececf4" stroke="#111" stroke-width="0.9"/>
<line x1="1622" y1="350.19" x2="1622" y2="354.39" stroke="#111" stroke-width="0.8"/>
<line x1="1615.4" y1="356.99" x2="1628.6" y2="356.99" stroke="#111" stroke-width="1"/>
<line x1="1622" y1="362.79" x2="1622" y2="364.99" stroke="#111" stroke-width="1.1"/>
<rect x="1191.6" y="368.6" width="24" height="9.4" fill="#d4d4e4" stroke="#111" stroke-width="1.3" rx="4.7"/>
<rect x="1194" y="370.4" width="19.2" height="5.8" fill="#bcbccc" stroke="#111" stroke-width="0.9" rx="2.9"/>
<polyline points="672,349.9 860,348.1 928,346.8 1003,346 1060,345.4 1233,343.9 1340,343.9 1420,344.2 1558.6,346.1 1696.3,348.9" fill="none" stroke="#111" stroke-width="2.6"/>
<polyline points="672,377.6 860,382.3 928,384.2 1003,383.4 1060,381.9 1233,380.5 1340,380 1420,380.4 1558.6,382.9 1696.3,386" fill="none" stroke="#111" stroke-width="2.8"/>
<polyline points="780,381.5 816,382.4 852,383.3" fill="none" stroke="#111" stroke-width="1.6"/>
<polyline points="856,383.4 929,385.39 1002,384.61" fill="none" stroke="#111" stroke-width="1.6"/>
<polyline points="1384,381.42 1418,381.59 1452,382.18" fill="none" stroke="#111" stroke-width="1.6"/>
<polyline points="1462,382.36 1494,382.93 1526,383.51" fill="none" stroke="#111" stroke-width="1.6"/>
<polyline points="1540,383.76 1572,384.4 1604,385.12" fill="none" stroke="#111" stroke-width="1.6"/>
<polyline points="1614,385.35 1647,386.09 1680,386.83" fill="none" stroke="#111" stroke-width="1.6"/>
<line x1="672.6" y1="349.2" x2="757" y2="349.2" stroke="#111" stroke-width="2.4"/>
<path d="M1696.3,386 L1696.3,342 L1744.7,302.6 A73,73 0 0 1 1791.7,282.2 L2269,298.76 L2269,317 L2263,317 L2263,342 L2252.4,340.6 L2072.3,334.4 L2062.5,339 L1932.4,334.4 L1851.4,331.6 L1851.4,386 Z" fill="#d6d6ea" stroke="#111" stroke-width="1.6" />
<path d="M1698.6,343.4 L1746,304.6 A71,71 0 0 1 1791.8,284.6 L2263,300.95" fill="none" stroke="#111" stroke-width="1.1" />
<line x1="1851.4" y1="329.6" x2="1932.4" y2="332.4" stroke="#111" stroke-width="0.8"/>
<line x1="1932.4" y1="332.4" x2="2062" y2="336.8" stroke="#111" stroke-width="0.8"/>
<line x1="2073" y1="332.4" x2="2252" y2="338.4" stroke="#111" stroke-width="0.8"/>
<line x1="1832.2" y1="285.6" x2="1832.2" y2="312" stroke="#111" stroke-width="0.9"/>
<line x1="1834.6" y1="285.67" x2="1834.6" y2="312" stroke="#111" stroke-width="0.9"/>
<polygon points="1696.8,376.5 1731.4,318.6 1736.6,318.6 1697.2,383.5" fill="#e2e2f2" stroke="#111" stroke-width="1"/>
<line x1="1724.6" y1="317.2" x2="1739.6" y2="317.2" stroke="#111" stroke-width="1.5"/>
<line x1="1731.6" y1="329.6" x2="1744" y2="336.6" stroke="#111" stroke-width="1"/>
<line x1="1730" y1="332.2" x2="1742" y2="339.2" stroke="#111" stroke-width="1"/>
<line x1="1719.4" y1="365.2" x2="1726.4" y2="371.6" stroke="#111" stroke-width="2.6" stroke-linecap="round"/>
<polyline points="1697.4,340.2 1700.6,340.6 1701.4,337.6" fill="none" stroke="#111" stroke-width="1.3"/>
<polyline points="1705.6,331.6 1709,332 1709.6,329.2" fill="none" stroke="#111" stroke-width="1.3"/>
<polyline points="1719,321 1721.2,318 1726,317.2" fill="none" stroke="#111" stroke-width="1.3"/>
<circle cx="1737.5" cy="356.5" r="11.4" fill="#eeeef6" stroke="#111" stroke-width="1"/>
<circle cx="1739.5" cy="356.5" r="6.6" fill="#e6e6ee" stroke="#111" stroke-width="1"/>
<line x1="1696.5" y1="383.6" x2="1745" y2="384.6" stroke="#111" stroke-width="0.9"/>
<line x1="1696.5" y1="386" x2="1745" y2="387" stroke="#111" stroke-width="1.8"/>
<line x1="1715" y1="384" x2="1715" y2="386.4" stroke="#111" stroke-width="0.8"/>
<line x1="1718" y1="384" x2="1718" y2="386.4" stroke="#111" stroke-width="0.8"/>
<line x1="1731" y1="384" x2="1731" y2="386.4" stroke="#111" stroke-width="0.8"/>
<line x1="1734" y1="384" x2="1734" y2="386.4" stroke="#111" stroke-width="0.8"/>
<path d="M1869.6,286.9 L1880.3,322.4 Q1882.5,326.9 1886.5,326.9 L1901.9,326.9 Q1905.9,326.9 1908.1,322.4 L1919.5,288.63 Z" fill="none" stroke="#111" stroke-width="1.1" />
<line x1="1871.6" y1="290.3" x2="1917.5" y2="292.03" stroke="#111" stroke-width="0.8"/>
<path d="M1887.85,296.3 h13 l2,4.7 l-2.7,8.5 l0.5,1.5 v4.5 h-11.8 v-4.5 l0.5,-1.5 l-3,-8.5 Z" fill="#dcdcf0" stroke="#111" stroke-width="1.3" />
<path d="M1884.75,297.9 l1,5.5" fill="none" stroke="#111" stroke-width="1.2" />
<path d="M1903.95,297.9 l-0.8,5.5" fill="none" stroke="#111" stroke-width="1.2" />
<path d="M2056.4,293.2 L2068.6,329.5 Q2070.8,334 2074.8,334 L2088.7,334 Q2092.7,334 2094.9,329.5 L2108.6,295.01 Z" fill="none" stroke="#111" stroke-width="1.1" />
<line x1="2058.4" y1="296.6" x2="2106.6" y2="298.41" stroke="#111" stroke-width="0.8"/>
<path d="M2075.8,302.6 h13 l2,4.7 l-2.7,8.5 l0.5,1.5 v4.5 h-11.8 v-4.5 l0.5,-1.5 l-3,-8.5 Z" fill="#dcdcf0" stroke="#111" stroke-width="1.3" />
<path d="M2072.7,304.2 l1,5.5" fill="none" stroke="#111" stroke-width="1.2" />
<path d="M2091.9,304.2 l-0.8,5.5" fill="none" stroke="#111" stroke-width="1.2" />
<polygon points="1881,333.4 1899.6,334 1897.6,340.6 1885.6,340.2" fill="#c8c8d4" stroke="#111" stroke-width="0.8"/>
<polygon points="2072.8,334.8 2090.2,335.2 2087.2,347.2 2075.6,347" fill="#c8c8d4" stroke="#111" stroke-width="0.9"/>
<rect x="1910.6" y="336.2" width="26" height="47.6" fill="#d2d0d0" stroke="#111" stroke-width="1.1"/>
<rect x="2099.6" y="338.4" width="26" height="47.6" fill="#d2d0d0" stroke="#111" stroke-width="1.1"/>
<path d="M1921.4,370.4 v-3.6 a4.6,4.6 0 0 1 4.6,-4.6" fill="none" stroke="#111" stroke-width="1.6" />
<path d="M2107,372.6 v-3.6 a4.6,4.6 0 0 1 4.6,-4.6" fill="none" stroke="#111" stroke-width="1.6" />
<line x1="1894.6" y1="367.6" x2="1910" y2="367.6" stroke="#111" stroke-width="1.3"/>
<line x1="1910" y1="358" x2="1910" y2="372" stroke="#111" stroke-width="1.3"/>
<line x1="2094" y1="371.6" x2="2099" y2="371.6" stroke="#111" stroke-width="1.3"/>
<line x1="2094" y1="375.2" x2="2099" y2="375.2" stroke="#111" stroke-width="1.3"/>
<line x1="2094" y1="380.6" x2="2099" y2="380.6" stroke="#111" stroke-width="1.3"/>
<line x1="2096.6" y1="370" x2="2096.6" y2="381.5" stroke="#111" stroke-width="1.2"/>
<rect x="1851" y="334" width="12.6" height="37" fill="#2e2e3e" stroke="#111" stroke-width="1.2" rx="4"/>
<rect x="1853.6" y="344" width="8.4" height="24" fill="#3c3c5c" stroke="#111" stroke-width="0.6" rx="2"/>
<polyline points="1854.6,372 1857.6,383 1860.8,385.4" fill="none" stroke="#111" stroke-width="1.6"/>
<rect x="2040" y="344" width="12.6" height="37" fill="#2e2e3e" stroke="#111" stroke-width="1.2" rx="4"/>
<rect x="2042.6" y="350" width="8.4" height="26" fill="#3c3c5c" stroke="#111" stroke-width="0.6" rx="2"/>
<rect x="2227" y="345" width="14.2" height="33" fill="#2e2e3e" stroke="#111" stroke-width="1.2" rx="4"/>
<rect x="2230.6" y="349" width="8.6" height="26" fill="#3c3c5c" stroke="#111" stroke-width="0.6" rx="2"/>
<path d="M2241.4,342 L2250.6,359.6 A9.2,9.2 0 1 0 2263.6,343 L2263,341 Z" fill="#d2d2de" stroke="#111" stroke-width="1" />
<circle cx="2258.1" cy="352.8" r="3.9" fill="#fff" stroke="#111" stroke-width="1.3"/>
<line x1="2249.6" y1="358.6" x2="2250.2" y2="363.4" stroke="#111" stroke-width="1.4"/>
<rect x="2252.6" y="300.6" width="6.4" height="41.2" fill="#f2f2f8" stroke="#111" stroke-width="1"/>
<rect x="2259" y="300.2" width="4.4" height="41.6" fill="#c8c8d6" stroke="#111" stroke-width="1"/>
<rect x="2263.4" y="301.4" width="2.6" height="15.6" fill="#c8c8d6" stroke="#111" stroke-width="0.8"/>
<rect x="2266.4" y="301.8" width="2.2" height="15" fill="#c8c8d6" stroke="#111" stroke-width="0.8"/>
<rect x="2238.4" y="307.6" width="13.6" height="27" fill="#fff" stroke="#111" stroke-width="1.7"/>
<circle cx="2246" cy="321.2" r="1.9" fill="#111" stroke="#111" stroke-width="0.3"/>
<circle cx="2256.2" cy="321.4" r="0.9" fill="#111" stroke="#111" stroke-width="0.3"/>
<g transform="translate(1797.7 361) scale(0.9548 1)">
<circle cx="0" cy="0" r="58.45" fill="#59595b" stroke="#0a0a0a" stroke-width="2.7"/>
<circle cx="0" cy="0" r="34" fill="#c9cdf1" stroke="#080808" stroke-width="6.2"/>
<circle cx="0" cy="0" r="29.4" fill="none" stroke="#7d80a8" stroke-width="0.7"/>
<circle cx="0" cy="0" r="22.7" fill="#f7f7fd" stroke="#111" stroke-width="1.9"/>
<ellipse cx="0" cy="-26.6" rx="2.3" ry="5.4" fill="#fbfbff" stroke="#111" stroke-width="1.5" transform="rotate(-90 0 -26.6)"/>
<ellipse cx="25.3" cy="-8.22" rx="2.3" ry="5.4" fill="#16161c" stroke="#111" stroke-width="1.5" transform="rotate(-18 25.3 -8.22)"/>
<ellipse cx="15.64" cy="21.52" rx="2.3" ry="5.4" fill="#fbfbff" stroke="#111" stroke-width="1.5" transform="rotate(54 15.64 21.52)"/>
<ellipse cx="-15.64" cy="21.52" rx="2.3" ry="5.4" fill="#16161c" stroke="#111" stroke-width="1.5" transform="rotate(126 -15.64 21.52)"/>
<ellipse cx="-25.3" cy="-8.22" rx="2.3" ry="5.4" fill="#fbfbff" stroke="#111" stroke-width="1.5" transform="rotate(198 -25.3 -8.22)"/>
<circle cx="0" cy="0" r="14.2" fill="none" stroke="#111" stroke-width="1.8"/>
<circle cx="5.22" cy="-16.07" r="1.45" fill="#ececf2" stroke="#111" stroke-width="1.2"/>
<circle cx="13.67" cy="-9.93" r="1.45" fill="#ececf2" stroke="#111" stroke-width="1.2"/>
<circle cx="16.9" cy="0" r="1.45" fill="#2a2a2a" stroke="#111" stroke-width="1.2"/>
<circle cx="13.67" cy="9.93" r="1.45" fill="#2a2a2a" stroke="#111" stroke-width="1.2"/>
<circle cx="5.22" cy="16.07" r="1.45" fill="#2a2a2a" stroke="#111" stroke-width="1.2"/>
<circle cx="-5.22" cy="16.07" r="1.45" fill="#ececf2" stroke="#111" stroke-width="1.2"/>
<circle cx="-13.67" cy="9.93" r="1.45" fill="#ececf2" stroke="#111" stroke-width="1.2"/>
<circle cx="-16.9" cy="0" r="1.45" fill="#ececf2" stroke="#111" stroke-width="1.2"/>
<circle cx="-13.67" cy="-9.93" r="1.45" fill="#ececf2" stroke="#111" stroke-width="1.2"/>
<circle cx="-5.22" cy="-16.07" r="1.45" fill="#ececf2" stroke="#111" stroke-width="1.2"/>
<circle cx="0" cy="0" r="8.6" fill="#ffffff" stroke="#111" stroke-width="1.5"/>
<path d="M-9.6,2.2 a9.8,9.8 0 0 0 19.2,1.2 l-3.4,1.4 a6.2,6.2 0 0 1 -12.2,-1 Z" fill="#d4d6f2" stroke="#111" stroke-width="1.5" />
<path d="M-11.4,-1.6 a11.6,11.6 0 0 0 4.2,10.8" fill="none" stroke="#111" stroke-width="2" />
<line x1="-10.4" y1="0" x2="10.4" y2="0" stroke="#111" stroke-width="1"/>
<line x1="0" y1="-10.4" x2="0" y2="10.4" stroke="#111" stroke-width="1"/>
</g>
<g transform="translate(1985.6 366.2) scale(0.9682 1)">
<circle cx="0" cy="0" r="58.45" fill="#59595b" stroke="#0a0a0a" stroke-width="2.7"/>
<circle cx="0" cy="0" r="34" fill="#c9cdf1" stroke="#080808" stroke-width="6.2"/>
<circle cx="0" cy="0" r="29.4" fill="none" stroke="#7d80a8" stroke-width="0.7"/>
<circle cx="0" cy="0" r="22.7" fill="#f7f7fd" stroke="#111" stroke-width="1.9"/>
<ellipse cx="-17.45" cy="-20.08" rx="2.3" ry="5.4" fill="#fbfbff" stroke="#111" stroke-width="1.5" transform="rotate(-131 -17.45 -20.08)"/>
<ellipse cx="13.7" cy="-22.8" rx="2.3" ry="5.4" fill="#fbfbff" stroke="#111" stroke-width="1.5" transform="rotate(-59 13.7 -22.8)"/>
<ellipse cx="25.92" cy="5.98" rx="2.3" ry="5.4" fill="#fbfbff" stroke="#111" stroke-width="1.5" transform="rotate(13 25.92 5.98)"/>
<ellipse cx="2.32" cy="26.5" rx="2.3" ry="5.4" fill="#fbfbff" stroke="#111" stroke-width="1.5" transform="rotate(85 2.32 26.5)"/>
<ellipse cx="-24.49" cy="10.39" rx="2.3" ry="5.4" fill="#fbfbff" stroke="#111" stroke-width="1.5" transform="rotate(157 -24.49 10.39)"/>
<circle cx="0" cy="0" r="14.2" fill="none" stroke="#111" stroke-width="1.8"/>
<circle cx="-6.6" cy="-15.56" r="1.45" fill="#ececf2" stroke="#111" stroke-width="1.2"/>
<circle cx="3.8" cy="-16.47" r="1.45" fill="#ececf2" stroke="#111" stroke-width="1.2"/>
<circle cx="12.75" cy="-11.09" r="1.45" fill="#2a2a2a" stroke="#111" stroke-width="1.2"/>
<circle cx="16.84" cy="-1.47" r="1.45" fill="#2a2a2a" stroke="#111" stroke-width="1.2"/>
<circle cx="14.49" cy="8.7" r="1.45" fill="#2a2a2a" stroke="#111" stroke-width="1.2"/>
<circle cx="6.6" cy="15.56" r="1.45" fill="#ececf2" stroke="#111" stroke-width="1.2"/>
<circle cx="-3.8" cy="16.47" r="1.45" fill="#ececf2" stroke="#111" stroke-width="1.2"/>
<circle cx="-12.75" cy="11.09" r="1.45" fill="#ececf2" stroke="#111" stroke-width="1.2"/>
<circle cx="-16.84" cy="1.47" r="1.45" fill="#ececf2" stroke="#111" stroke-width="1.2"/>
<circle cx="-14.49" cy="-8.7" r="1.45" fill="#ececf2" stroke="#111" stroke-width="1.2"/>
<circle cx="0" cy="0" r="8.6" fill="#ffffff" stroke="#111" stroke-width="1.5"/>
<path d="M-9.6,2.2 a9.8,9.8 0 0 0 19.2,1.2 l-3.4,1.4 a6.2,6.2 0 0 1 -12.2,-1 Z" fill="#d4d6f2" stroke="#111" stroke-width="1.5" />
<path d="M-11.4,-1.6 a11.6,11.6 0 0 0 4.2,10.8" fill="none" stroke="#111" stroke-width="2" />
<line x1="-10.4" y1="0" x2="10.4" y2="0" stroke="#111" stroke-width="1"/>
<line x1="0" y1="-10.4" x2="0" y2="10.4" stroke="#111" stroke-width="1"/>
</g>
<g transform="translate(2171.7 353.4) scale(0.9749 1)">
<circle cx="0" cy="0" r="58.45" fill="#59595b" stroke="#0a0a0a" stroke-width="2.7"/>
<circle cx="0" cy="0" r="34" fill="#c9cdf1" stroke="#080808" stroke-width="6.2"/>
<circle cx="0" cy="0" r="29.4" fill="none" stroke="#7d80a8" stroke-width="0.7"/>
<circle cx="0" cy="0" r="22.7" fill="#f7f7fd" stroke="#111" stroke-width="1.9"/>
<ellipse cx="0" cy="-26.6" rx="2.3" ry="5.4" fill="#fbfbff" stroke="#111" stroke-width="1.5" transform="rotate(-90 0 -26.6)"/>
<ellipse cx="25.3" cy="-8.22" rx="2.3" ry="5.4" fill="#fbfbff" stroke="#111" stroke-width="1.5" transform="rotate(-18 25.3 -8.22)"/>
<ellipse cx="15.64" cy="21.52" rx="2.3" ry="5.4" fill="#fbfbff" stroke="#111" stroke-width="1.5" transform="rotate(54 15.64 21.52)"/>
<ellipse cx="-15.64" cy="21.52" rx="2.3" ry="5.4" fill="#fbfbff" stroke="#111" stroke-width="1.5" transform="rotate(126 -15.64 21.52)"/>
<ellipse cx="-25.3" cy="-8.22" rx="2.3" ry="5.4" fill="#fbfbff" stroke="#111" stroke-width="1.5" transform="rotate(198 -25.3 -8.22)"/>
<circle cx="0" cy="0" r="14.2" fill="none" stroke="#111" stroke-width="1.8"/>
<circle cx="5.22" cy="-16.07" r="1.45" fill="#ececf2" stroke="#111" stroke-width="1.2"/>
<circle cx="13.67" cy="-9.93" r="1.45" fill="#ececf2" stroke="#111" stroke-width="1.2"/>
<circle cx="16.9" cy="0" r="1.45" fill="#2a2a2a" stroke="#111" stroke-width="1.2"/>
<circle cx="13.67" cy="9.93" r="1.45" fill="#2a2a2a" stroke="#111" stroke-width="1.2"/>
<circle cx="5.22" cy="16.07" r="1.45" fill="#2a2a2a" stroke="#111" stroke-width="1.2"/>
<circle cx="-5.22" cy="16.07" r="1.45" fill="#ececf2" stroke="#111" stroke-width="1.2"/>
<circle cx="-13.67" cy="9.93" r="1.45" fill="#ececf2" stroke="#111" stroke-width="1.2"/>
<circle cx="-16.9" cy="0" r="1.45" fill="#ececf2" stroke="#111" stroke-width="1.2"/>
<circle cx="-13.67" cy="-9.93" r="1.45" fill="#ececf2" stroke="#111" stroke-width="1.2"/>
<circle cx="-5.22" cy="-16.07" r="1.45" fill="#ececf2" stroke="#111" stroke-width="1.2"/>
<circle cx="0" cy="0" r="8.6" fill="#ffffff" stroke="#111" stroke-width="1.5"/>
<path d="M-9.6,2.2 a9.8,9.8 0 0 0 19.2,1.2 l-3.4,1.4 a6.2,6.2 0 0 1 -12.2,-1 Z" fill="#d4d6f2" stroke="#111" stroke-width="1.5" />
<path d="M-11.4,-1.6 a11.6,11.6 0 0 0 4.2,10.8" fill="none" stroke="#111" stroke-width="2" />
<line x1="-10.4" y1="0" x2="10.4" y2="0" stroke="#111" stroke-width="1"/>
<line x1="0" y1="-10.4" x2="0" y2="10.4" stroke="#111" stroke-width="1"/>
</g>
<line x1="273.7" y1="108.8" x2="273.7" y2="249" stroke="#111" stroke-width="1.1"/>
<line x1="755" y1="163.9" x2="755" y2="349" stroke="#111" stroke-width="1.1"/>
<line x1="1695.4" y1="163.9" x2="1695.4" y2="517" stroke="#111" stroke-width="1.1"/>
<line x1="2268.8" y1="108.8" x2="2268.8" y2="290.4" stroke="#111" stroke-width="1.1"/>
<line x1="2265.5" y1="163.9" x2="2265.5" y2="290.4" stroke="#111" stroke-width="1.1"/>
<line x1="273.7" y1="123.3" x2="1188.4" y2="123.3" stroke="#111" stroke-width="1.1"/>
<line x1="1349.7" y1="123.3" x2="2268.8" y2="123.3" stroke="#111" stroke-width="1.1"/>
<polygon points="273.7,123.3 284.3,120.8 284.3,125.8" fill="#111"/>
<polygon points="2268.8,123.3 2258.2,125.8 2258.2,120.8" fill="#111"/>
<text x="1269" y="119.5" font-size="20.95" fill="#111" text-anchor="middle">52'-11 15/16&quot;</text>
<text x="1269" y="144.3" font-size="20.95" fill="#111" text-anchor="middle">635 15/16&quot;</text>
<polyline points="1206.4,101.1 1201.8,101.1 1201.8,124.7 1206.4,124.7" fill="none" stroke="#111" stroke-width="0.9"/>
<polyline points="1331.6,101.1 1336.2,101.1 1336.2,124.7 1331.6,124.7" fill="none" stroke="#111" stroke-width="0.9"/>
<line x1="273.7" y1="178.4" x2="435" y2="178.4" stroke="#111" stroke-width="1.1"/>
<line x1="573.4" y1="178.4" x2="755" y2="178.4" stroke="#111" stroke-width="1.1"/>
<polygon points="273.7,178.4 284.3,175.9 284.3,180.9" fill="#111"/>
<polygon points="755,178.4 744.4,180.9 744.4,175.9" fill="#111"/>
<text x="504.7" y="175.8" font-size="20.95" fill="#111" text-anchor="middle">12'-9 5/16&quot;</text>
<text x="504.7" y="200.1" font-size="20.95" fill="#111" text-anchor="middle">153 5/16&quot;</text>
<polyline points="453.6,157.4 449,157.4 449,181 453.6,181" fill="none" stroke="#111" stroke-width="0.9"/>
<polyline points="555.9,157.4 560.5,157.4 560.5,181 555.9,181" fill="none" stroke="#111" stroke-width="0.9"/>
<line x1="755" y1="178.4" x2="1188.4" y2="178.4" stroke="#111" stroke-width="1.1"/>
<line x1="1349.7" y1="178.4" x2="1695.4" y2="178.4" stroke="#111" stroke-width="1.1"/>
<polygon points="755,178.4 765.6,175.9 765.6,180.9" fill="#111"/>
<polygon points="1695.4,178.4 1684.8,180.9 1684.8,175.9" fill="#111"/>
<text x="1269" y="175.2" font-size="20.95" fill="#111" text-anchor="middle">24'-11 15/16&quot;</text>
<text x="1269" y="199.7" font-size="20.95" fill="#111" text-anchor="middle">299 15/16&quot;</text>
<polyline points="1206.4,156.8 1201.8,156.8 1201.8,180.4 1206.4,180.4" fill="none" stroke="#111" stroke-width="0.9"/>
<polyline points="1331.6,156.8 1336.2,156.8 1336.2,180.4 1331.6,180.4" fill="none" stroke="#111" stroke-width="0.9"/>
<line x1="1695.4" y1="178.4" x2="1919.3" y2="178.4" stroke="#111" stroke-width="1.1"/>
<line x1="2069.8" y1="178.4" x2="2265.5" y2="178.4" stroke="#111" stroke-width="1.1"/>
<polygon points="1695.4,178.4 1706,175.9 1706,180.9" fill="#111"/>
<polygon points="2265.5,178.4 2254.9,180.9 2254.9,175.9" fill="#111"/>
<text x="1994.6" y="175.4" font-size="20.95" fill="#111" text-anchor="middle">15'-1 13/16&quot;</text>
<text x="1994.6" y="199.7" font-size="20.95" fill="#111" text-anchor="middle">181 13/16&quot;</text>
<polyline points="1937.3,157 1932.7,157 1932.7,180.6 1937.3,180.6" fill="none" stroke="#111" stroke-width="0.9"/>
<polyline points="2051.8,157 2056.4,157 2056.4,180.6 2051.8,180.6" fill="none" stroke="#111" stroke-width="0.9"/>
<text x="2172" y="219.5" font-size="20.95" fill="#111" text-anchor="middle">18 3/8&quot; OVERALL</text>
<text x="2172" y="242.6" font-size="20.95" fill="#111" text-anchor="middle">DIAMETER</text>
<text x="2172" y="266" font-size="20.95" fill="#111" text-anchor="middle">255/75R22.5</text>
<line x1="2069" y1="236" x2="2088" y2="236" stroke="#111" stroke-width="1.1"/>
<line x1="2069" y1="236" x2="2069" y2="423.6" stroke="#111" stroke-width="1.1"/>
<polygon points="2069,423.6 2066.5,413 2071.5,413" fill="#111"/>
<polygon points="2069,366.2 2071.5,376.8 2066.5,376.8" fill="#111"/>
<line x1="1986.4" y1="366.2" x2="2083.4" y2="366.2" stroke="#111" stroke-width="1.1"/>
<line x1="1985.8" y1="366" x2="1985.8" y2="602.6" stroke="#111" stroke-width="1.1"/>
<line x1="2171.7" y1="353" x2="2171.7" y2="630" stroke="#111" stroke-width="1.1"/>
<text x="1259.4" y="300.2" font-size="20.95" fill="#111">12&quot; DECK BEAM HEIGHT</text>
<line x1="1233.5" y1="293.4" x2="1252.2" y2="293.4" stroke="#111" stroke-width="1.1"/>
<line x1="1233.5" y1="293.4" x2="1233.5" y2="342.9" stroke="#111" stroke-width="1.1"/>
<polygon points="1233.5,342.7 1231,332.1 1236,332.1" fill="#111"/>
<line x1="1233.5" y1="382.1" x2="1233.5" y2="399.6" stroke="#111" stroke-width="1.1"/>
<polygon points="1233.5,382.1 1236,392.7 1231,392.7" fill="#111"/>
<text x="570.3" y="285.4" font-size="20.95" fill="#111">8 9/16&quot;</text>
<line x1="644.4" y1="261.9" x2="644.4" y2="293.7" stroke="#111" stroke-width="1.1"/>
<line x1="671.7" y1="264.9" x2="671.7" y2="311" stroke="#111" stroke-width="1.1"/>
<line x1="641" y1="279.6" x2="671.7" y2="279.6" stroke="#111" stroke-width="1.1"/>
<polygon points="644.4,279.6 653.9,277.1 653.9,282.1" fill="#111"/>
<polygon points="671.7,279.6 662.2,282.1 662.2,277.1" fill="#111"/>
<line x1="671.7" y1="324.6" x2="776.4" y2="322.2" stroke="#111" stroke-width="1.1"/>
<polygon points="671.7,324.6 682.24,321.86 682.35,326.86" fill="#111"/>
<text x="782.5" y="327.9" font-size="20.95" fill="#111">63 5/16&quot;</text>
<polygon points="869.5,319.4 858.9,321.9 858.9,316.9" fill="#111"/>
<line x1="858" y1="319.4" x2="869.5" y2="319.4" stroke="#111" stroke-width="1.1"/>
<line x1="869.5" y1="305.8" x2="869.5" y2="328.5" stroke="#111" stroke-width="1.1"/>
<line x1="1020.4" y1="305.8" x2="1020.4" y2="328.5" stroke="#111" stroke-width="1.1"/>
<line x1="869.5" y1="336.6" x2="869.5" y2="340.4" stroke="#111" stroke-width="1.1"/>
<line x1="1020.4" y1="336.6" x2="1020.4" y2="340.4" stroke="#111" stroke-width="1.1"/>
<line x1="869.5" y1="319.4" x2="906" y2="319" stroke="#111" stroke-width="1.1"/>
<polygon points="869.5,319.4 880.1,316.9 880.1,321.9" fill="#111"/>
<line x1="996.2" y1="318.8" x2="1020.4" y2="318.8" stroke="#111" stroke-width="1.1"/>
<polygon points="1020.4,318.8 1009.8,321.3 1009.8,316.3" fill="#111"/>
<text x="913.4" y="325.3" font-size="20.95" fill="#111">48&quot; TYP</text>
<line x1="629.6" y1="352.7" x2="664.4" y2="352.7" stroke="#111" stroke-width="1.1"/>
<line x1="629.6" y1="377.6" x2="664.4" y2="377.6" stroke="#111" stroke-width="1.1"/>
<line x1="644" y1="333.8" x2="644" y2="352.7" stroke="#111" stroke-width="1.1"/>
<polygon points="644,352.7 641.5,342.1 646.5,342.1" fill="#111"/>
<line x1="644" y1="377.6" x2="644" y2="396.6" stroke="#111" stroke-width="1.1"/>
<polygon points="644,377.6 646.5,388.2 641.5,388.2" fill="#111"/>
<text x="635.2" y="370.8" font-size="20.95" fill="#111">8&quot;</text>
<line x1="672.8" y1="377" x2="672.8" y2="575.7" stroke="#111" stroke-width="1.3"/>
<line x1="653" y1="405.6" x2="672.8" y2="405.6" stroke="#111" stroke-width="1.1"/>
<polygon points="672.8,405.6 662.2,408.1 662.2,403.1" fill="#111"/>
<text x="677.7" y="411.8" font-size="20.95" fill="#111">80 7/16&quot; TAPER LENGTH</text>
<line x1="924.4" y1="390" x2="924.4" y2="419" stroke="#111" stroke-width="1.1"/>
<line x1="924.4" y1="405.6" x2="943.8" y2="405.6" stroke="#111" stroke-width="1.1"/>
<polygon points="924.4,405.6 935,403.1 935,408.1" fill="#111"/>
<line x1="123.7" y1="497.2" x2="142" y2="497.2" stroke="#111" stroke-width="1.1"/>
<line x1="123.7" y1="497.2" x2="191.7" y2="423.6" stroke="#111" stroke-width="1.1"/>
<polygon points="191.7,423.6 186.34,433.08 182.67,429.69" fill="#111"/>
<text x="146" y="505" font-size="20.95" fill="#111">GROUND LEVEL</text>
<line x1="735.4" y1="452" x2="735.4" y2="464.8" stroke="#111" stroke-width="2"/>
<polygon points="735.4,444.6 738.9,456 731.9,456" fill="#111"/>
<text x="735.4" y="443.4" font-size="12.6" fill="#333" text-anchor="middle" letter-spacing="1.2">AA</text>
<line x1="1046" y1="452" x2="1046" y2="464.8" stroke="#111" stroke-width="2"/>
<polygon points="1046,444.6 1049.5,456 1042.5,456" fill="#111"/>
<text x="1046" y="443.4" font-size="12.6" fill="#333" text-anchor="middle" letter-spacing="1.2">AA</text>
<line x1="734.4" y1="464.8" x2="1047" y2="464.8" stroke="#111" stroke-width="2" stroke-dasharray="38.4 6.9 8.8 6.3 8.8 6.3" stroke-dashoffset="14.2"/>
<text x="1602.6" y="420.2" font-size="12.6" fill="#333" text-anchor="middle" letter-spacing="1.2">AJ</text>
<text x="1806.6" y="417" font-size="12.6" fill="#3a3a3a" text-anchor="middle" letter-spacing="1.2">AJ</text>
<line x1="1601.6" y1="430" x2="1601.6" y2="441.9" stroke="#111" stroke-width="2"/>
<polygon points="1601.6,422.6 1605.1,434 1598.1,434" fill="#111"/>
<line x1="1803" y1="430" x2="1803" y2="441.9" stroke="#111" stroke-width="2"/>
<polygon points="1803,422.6 1806.5,434 1799.5,434" fill="#111"/>
<line x1="1601.6" y1="441.9" x2="1803" y2="441.9" stroke="#111" stroke-width="2" stroke-dasharray="38.4 6.9 8.8 6.3 8.8 6.3" stroke-dashoffset="70.2"/>
<line x1="317.5" y1="274" x2="317.5" y2="630" stroke="#111" stroke-width="1.1"/>
<line x1="672.8" y1="503.7" x2="1022.5" y2="503.7" stroke="#111" stroke-width="1.1"/>
<line x1="1348.1" y1="503.7" x2="1695.4" y2="503.7" stroke="#111" stroke-width="1.1"/>
<polygon points="672.8,503.7 683.4,501.2 683.4,506.2" fill="#111"/>
<polygon points="1695.4,503.7 1684.8,506.2 1684.8,501.2" fill="#111"/>
<text x="1185.3" y="509.9" font-size="20.95" fill="#111" text-anchor="middle">326 1/16&quot; - FULL BEAM LENGTH</text>
<line x1="672.8" y1="531.9" x2="1001" y2="531.9" stroke="#111" stroke-width="1.1"/>
<line x1="1369.6" y1="531.9" x2="1985.7" y2="531.9" stroke="#111" stroke-width="1.1"/>
<polygon points="672.8,531.9 683.4,529.4 683.4,534.4" fill="#111"/>
<polygon points="1985.7,531.9 1975.1,534.4 1975.1,529.4" fill="#111"/>
<text x="1185.3" y="538.1" font-size="20.95" fill="#111" text-anchor="middle">418 7/16&quot; - DECK TO TRAILER SPAN</text>
<line x1="672.8" y1="561.7" x2="1010.7" y2="561.7" stroke="#111" stroke-width="1.1"/>
<line x1="1359.4" y1="561.7" x2="2171.7" y2="561.7" stroke="#111" stroke-width="1.1"/>
<polygon points="672.8,561.7 683.4,559.2 683.4,564.2" fill="#111"/>
<polygon points="2171.7,561.7 2161.1,564.2 2161.1,559.2" fill="#111"/>
<text x="1185.05" y="567.9" font-size="20.95" fill="#111" text-anchor="middle">477 3/4&quot; - DECK TO DESIGN SPAN</text>
<line x1="317.5" y1="588" x2="1013.1" y2="588" stroke="#111" stroke-width="1.1"/>
<line x1="1357.3" y1="588" x2="1985.7" y2="588" stroke="#111" stroke-width="1.1"/>
<polygon points="317.5,588 328.1,585.5 328.1,590.5" fill="#111"/>
<polygon points="1985.7,588 1975.1,590.5 1975.1,585.5" fill="#111"/>
<text x="1185.2" y="594.2" font-size="20.95" fill="#111" text-anchor="middle">531 11/16&quot; - TRAILER ONLY SPAN</text>
<line x1="317.5" y1="615.8" x2="1077.6" y2="615.8" stroke="#111" stroke-width="1.1"/>
<line x1="1292.7" y1="615.8" x2="2171.7" y2="615.8" stroke="#111" stroke-width="1.1"/>
<polygon points="317.5,615.8 328.1,613.3 328.1,618.3" fill="#111"/>
<polygon points="2171.7,615.8 2161.1,618.3 2161.1,613.3" fill="#111"/>
<text x="1185.15" y="622" font-size="20.95" fill="#111" text-anchor="middle">591&quot; - DESIGN SPAN</text>
<rect x="378" y="748" width="12" height="3.4" fill="#ccc" stroke="#111" stroke-width="0.8" rx="1.5"/>
<rect x="378" y="1229.4" width="12" height="3.4" fill="#ccc" stroke="#111" stroke-width="0.8" rx="1.5"/>
<rect x="603" y="748" width="12" height="3.4" fill="#ccc" stroke="#111" stroke-width="0.8" rx="1.5"/>
<rect x="603" y="1229.4" width="12" height="3.4" fill="#ccc" stroke="#111" stroke-width="0.8" rx="1.5"/>
<rect x="221.7" y="781.2" width="22.8" height="95" fill="#bcbccc" stroke="none" stroke-width="0"/>
<line x1="246.2" y1="781.2" x2="246.2" y2="876.2" stroke="#111" stroke-width="1.2"/>
<rect x="255" y="781.2" width="8" height="95" fill="#d8d8ea" stroke="none" stroke-width="0"/>
<line x1="255" y1="781.2" x2="255" y2="876.2" stroke="#111" stroke-width="3.6"/>
<line x1="263.2" y1="781.2" x2="263.2" y2="876.2" stroke="#111" stroke-width="2.4"/>
<rect x="294.8" y="781.2" width="11.6" height="95" fill="#d8d8ea" stroke="none" stroke-width="0"/>
<line x1="294.8" y1="781.2" x2="294.8" y2="876.2" stroke="#111" stroke-width="2.6"/>
<line x1="306.4" y1="781.2" x2="306.4" y2="876.2" stroke="#111" stroke-width="2.6"/>
<rect x="351.8" y="781.2" width="11" height="95" fill="#d8d8ea" stroke="none" stroke-width="0"/>
<line x1="351.8" y1="781.2" x2="351.8" y2="876.2" stroke="#111" stroke-width="3.6"/>
<line x1="362.8" y1="781.2" x2="362.8" y2="876.2" stroke="#111" stroke-width="2.2"/>
<rect x="408.2" y="781.2" width="10.2" height="95" fill="#d8d8ea" stroke="none" stroke-width="0"/>
<line x1="408.2" y1="781.2" x2="408.2" y2="876.2" stroke="#111" stroke-width="3.6"/>
<line x1="418.4" y1="781.2" x2="418.4" y2="876.2" stroke="#111" stroke-width="2.2"/>
<rect x="460.6" y="781.2" width="19.4" height="95" fill="#b4b4c2" stroke="none" stroke-width="0"/>
<line x1="460.6" y1="781.2" x2="460.6" y2="876.2" stroke="#111" stroke-width="3.6"/>
<line x1="480" y1="781.2" x2="480" y2="876.2" stroke="#111" stroke-width="2.4"/>
<rect x="521" y="781.2" width="10.4" height="95" fill="#d8d8ea" stroke="none" stroke-width="0"/>
<line x1="521" y1="781.2" x2="521" y2="876.2" stroke="#111" stroke-width="2.6"/>
<line x1="531.4" y1="781.2" x2="531.4" y2="876.2" stroke="#111" stroke-width="2.6"/>
<rect x="577" y="781.2" width="11.8" height="95" fill="#d8d8ea" stroke="none" stroke-width="0"/>
<line x1="577" y1="781.2" x2="577" y2="876.2" stroke="#111" stroke-width="2.8"/>
<line x1="588.8" y1="781.2" x2="588.8" y2="876.2" stroke="#111" stroke-width="2.8"/>
<line x1="356.6" y1="781.2" x2="356.6" y2="791.7" stroke="#111" stroke-width="2.6"/>
<line x1="470.4" y1="781.2" x2="470.4" y2="791.7" stroke="#111" stroke-width="2.6"/>
<line x1="582.6" y1="781.2" x2="582.6" y2="791.7" stroke="#111" stroke-width="2.6"/>
<line x1="413.6" y1="865.7" x2="413.6" y2="876.2" stroke="#111" stroke-width="2.6"/>
<line x1="526.4" y1="865.7" x2="526.4" y2="876.2" stroke="#111" stroke-width="2.6"/>
<rect x="221.7" y="1103.6" width="22.8" height="94" fill="#bcbccc" stroke="none" stroke-width="0"/>
<line x1="246.2" y1="1103.6" x2="246.2" y2="1197.6" stroke="#111" stroke-width="1.2"/>
<rect x="255" y="1103.6" width="8" height="94" fill="#d8d8ea" stroke="none" stroke-width="0"/>
<line x1="255" y1="1103.6" x2="255" y2="1197.6" stroke="#111" stroke-width="3.6"/>
<line x1="263.2" y1="1103.6" x2="263.2" y2="1197.6" stroke="#111" stroke-width="2.4"/>
<rect x="294.8" y="1103.6" width="11.6" height="94" fill="#d8d8ea" stroke="none" stroke-width="0"/>
<line x1="294.8" y1="1103.6" x2="294.8" y2="1197.6" stroke="#111" stroke-width="2.6"/>
<line x1="306.4" y1="1103.6" x2="306.4" y2="1197.6" stroke="#111" stroke-width="2.6"/>
<rect x="351.8" y="1103.6" width="11" height="94" fill="#d8d8ea" stroke="none" stroke-width="0"/>
<line x1="351.8" y1="1103.6" x2="351.8" y2="1197.6" stroke="#111" stroke-width="3.6"/>
<line x1="362.8" y1="1103.6" x2="362.8" y2="1197.6" stroke="#111" stroke-width="2.2"/>
<rect x="408.2" y="1103.6" width="10.2" height="94" fill="#d8d8ea" stroke="none" stroke-width="0"/>
<line x1="408.2" y1="1103.6" x2="408.2" y2="1197.6" stroke="#111" stroke-width="3.6"/>
<line x1="418.4" y1="1103.6" x2="418.4" y2="1197.6" stroke="#111" stroke-width="2.2"/>
<rect x="460.6" y="1103.6" width="19.4" height="94" fill="#b4b4c2" stroke="none" stroke-width="0"/>
<line x1="460.6" y1="1103.6" x2="460.6" y2="1197.6" stroke="#111" stroke-width="3.6"/>
<line x1="480" y1="1103.6" x2="480" y2="1197.6" stroke="#111" stroke-width="2.4"/>
<rect x="521" y="1103.6" width="10.4" height="94" fill="#d8d8ea" stroke="none" stroke-width="0"/>
<line x1="521" y1="1103.6" x2="521" y2="1197.6" stroke="#111" stroke-width="2.6"/>
<line x1="531.4" y1="1103.6" x2="531.4" y2="1197.6" stroke="#111" stroke-width="2.6"/>
<rect x="577" y="1103.6" width="11.8" height="94" fill="#d8d8ea" stroke="none" stroke-width="0"/>
<line x1="577" y1="1103.6" x2="577" y2="1197.6" stroke="#111" stroke-width="2.8"/>
<line x1="588.8" y1="1103.6" x2="588.8" y2="1197.6" stroke="#111" stroke-width="2.8"/>
<line x1="356.6" y1="1187.1" x2="356.6" y2="1197.6" stroke="#111" stroke-width="2.6"/>
<line x1="470.4" y1="1187.1" x2="470.4" y2="1197.6" stroke="#111" stroke-width="2.6"/>
<line x1="582.6" y1="1187.1" x2="582.6" y2="1197.6" stroke="#111" stroke-width="2.6"/>
<line x1="413.6" y1="1103.6" x2="413.6" y2="1114.1" stroke="#111" stroke-width="2.6"/>
<line x1="526.4" y1="1103.6" x2="526.4" y2="1114.1" stroke="#111" stroke-width="2.6"/>
<polygon points="166.9,783.2 213.3,783.2 221.7,797.4 221.7,841.3 166.9,841.3" fill="#bebece" stroke="#111" stroke-width="1.3"/>
<line x1="166.9" y1="841.6" x2="221.7" y2="841.6" stroke="#111" stroke-width="2.6"/>
<rect x="166.9" y="843.4" width="57.4" height="31" fill="#d2d2e2" stroke="#111" stroke-width="1.4"/>
<line x1="166.9" y1="874.6" x2="224.3" y2="874.6" stroke="#111" stroke-width="2.4" stroke-dasharray="9 2"/>
<line x1="224.3" y1="843.4" x2="224.3" y2="874.6" stroke="#111" stroke-width="1.6" stroke-dasharray="7 2"/>
<circle cx="180.4" cy="852.3" r="1.9" fill="#222" stroke="#111" stroke-width="0.5"/>
<circle cx="180.4" cy="866" r="1.9" fill="#222" stroke="#111" stroke-width="0.5"/>
<circle cx="194" cy="852.3" r="1.9" fill="#222" stroke="#111" stroke-width="0.5"/>
<circle cx="194" cy="866" r="1.9" fill="#222" stroke="#111" stroke-width="0.5"/>
<circle cx="207.7" cy="852.3" r="1.9" fill="#222" stroke="#111" stroke-width="0.5"/>
<circle cx="207.7" cy="866" r="1.9" fill="#222" stroke="#111" stroke-width="0.5"/>
<rect x="166.9" y="1104.6" width="44.6" height="12" fill="#d0d0dc" stroke="#111" stroke-width="1.2"/>
<line x1="196.6" y1="1104.6" x2="196.6" y2="1115.6" stroke="#111" stroke-width="1.2"/>
<rect x="198" y="1105" width="11.4" height="8.4" fill="#dcdce8" stroke="#111" stroke-width="1"/>
<rect x="178.6" y="1109.2" width="6.4" height="3" fill="#222" stroke="#111" stroke-width="0.4"/>
<line x1="166.9" y1="1117.6" x2="212" y2="1117.6" stroke="#111" stroke-width="1.4"/>
<line x1="198" y1="1114.6" x2="211.6" y2="1114.6" stroke="#111" stroke-width="2.6"/>
<path d="M212,1103.6 L212,1120 L221.4,1131 L221.4,1182 L214,1190 L212,1197.6 L244.5,1197.6 L244.5,1103.6 Z" fill="#c4c4d4" stroke="#111" stroke-width="1.2" />
<rect x="166.9" y="1134.4" width="54.4" height="63" fill="#cdcbcc" stroke="#111" stroke-width="1.2"/>
<line x1="166.9" y1="1137.6" x2="221.4" y2="1137.6" stroke="#111" stroke-width="1"/>
<line x1="166.9" y1="1133.4" x2="221.4" y2="1133.4" stroke="#111" stroke-width="1.4"/>
<path d="M221.4,1137 L221.4,1182 L213,1191 L211.6,1197.6 L166.9,1197.6" fill="#cdcbcc" stroke="#111" stroke-width="1.2" />
<rect x="166.9" y="751" width="465.3" height="30.2" fill="#bebece" stroke="#111" stroke-width="2.2"/>
<rect x="166.9" y="1197.6" width="465.3" height="32.2" fill="#bebece" stroke="#111" stroke-width="2.2"/>
<rect x="166.9" y="876.2" width="465.3" height="56.8" fill="#c8c8da" stroke="#111" stroke-width="1.8"/>
<rect x="166.9" y="1048.6" width="465.3" height="55" fill="#c8c8da" stroke="#111" stroke-width="1.8"/>
<line x1="219.6" y1="759" x2="219.6" y2="760.6" stroke="#111" stroke-width="0.9"/>
<line x1="219.6" y1="764.6" x2="219.6" y2="766.2" stroke="#111" stroke-width="0.9"/>
<line x1="256" y1="756" x2="256" y2="757.6" stroke="#111" stroke-width="0.9"/>
<line x1="256" y1="762.6" x2="256" y2="764.2" stroke="#111" stroke-width="0.9"/>
<line x1="578" y1="768" x2="578" y2="769.6" stroke="#111" stroke-width="0.9"/>
<line x1="469" y1="762.4" x2="471" y2="765" stroke="#111" stroke-width="1.2"/>
<line x1="358" y1="1213.6" x2="358" y2="1215.2" stroke="#111" stroke-width="1"/>
<line x1="358" y1="1217.2" x2="358" y2="1218.8" stroke="#111" stroke-width="1"/>
<rect x="166.9" y="933" width="423.4" height="115.6" fill="#c8c8da" stroke="none" stroke-width="0"/>
<rect x="166.9" y="933" width="38.6" height="115.6" fill="#d4d4e4" stroke="none" stroke-width="0"/>
<circle cx="175" cy="936.8" r="1.9" fill="#f4f4f8" stroke="#111" stroke-width="1.2"/>
<circle cx="186.4" cy="936.8" r="1.9" fill="#f4f4f8" stroke="#111" stroke-width="1.2"/>
<circle cx="198" cy="936.8" r="1.9" fill="#f4f4f8" stroke="#111" stroke-width="1.2"/>
<circle cx="175" cy="948.2" r="1.9" fill="#f4f4f8" stroke="#111" stroke-width="1.2"/>
<circle cx="186.4" cy="948.2" r="1.9" fill="#f4f4f8" stroke="#111" stroke-width="1.2"/>
<circle cx="198" cy="948.2" r="1.9" fill="#f4f4f8" stroke="#111" stroke-width="1.2"/>
<circle cx="175" cy="959.6" r="1.9" fill="#f4f4f8" stroke="#111" stroke-width="1.2"/>
<circle cx="186.4" cy="959.6" r="1.9" fill="#f4f4f8" stroke="#111" stroke-width="1.2"/>
<circle cx="198" cy="959.6" r="1.9" fill="#f4f4f8" stroke="#111" stroke-width="1.2"/>
<circle cx="175" cy="1016.6" r="1.9" fill="#f4f4f8" stroke="#111" stroke-width="1.2"/>
<circle cx="186.4" cy="1016.6" r="1.9" fill="#f4f4f8" stroke="#111" stroke-width="1.2"/>
<circle cx="198" cy="1016.6" r="1.9" fill="#f4f4f8" stroke="#111" stroke-width="1.2"/>
<circle cx="175" cy="1028" r="1.9" fill="#f4f4f8" stroke="#111" stroke-width="1.2"/>
<circle cx="186.4" cy="1028" r="1.9" fill="#f4f4f8" stroke="#111" stroke-width="1.2"/>
<circle cx="198" cy="1028" r="1.9" fill="#f4f4f8" stroke="#111" stroke-width="1.2"/>
<circle cx="175" cy="1039.4" r="1.9" fill="#f4f4f8" stroke="#111" stroke-width="1.2"/>
<circle cx="186.4" cy="1039.4" r="1.9" fill="#f4f4f8" stroke="#111" stroke-width="1.2"/>
<circle cx="198" cy="1039.4" r="1.9" fill="#f4f4f8" stroke="#111" stroke-width="1.2"/>
<line x1="208.2" y1="933" x2="208.2" y2="1048.6" stroke="#111" stroke-width="1"/>
<rect x="213" y="933" width="27" height="115.6" fill="#c2c2d2" stroke="none" stroke-width="0"/>
<line x1="211.8" y1="933" x2="211.8" y2="1048.6" stroke="#111" stroke-width="3"/>
<path d="M166.9,964.6 L188.8,973.6 L205,974.6 L240,974.6 L240,1006.4 L205,1006.4 L188.8,1007.4 L166.9,1016.4 Z" fill="#c6c6d6" stroke="#111" stroke-width="0.6" />
<polyline points="166.9,964.6 188.8,973.6 205,974.6 240,974.6" fill="none" stroke="#111" stroke-width="3"/>
<polyline points="166.9,1016.4 188.8,1007.4 205,1006.4 240,1006.4" fill="none" stroke="#111" stroke-width="3"/>
<line x1="166.9" y1="990.4" x2="191" y2="990.4" stroke="#111" stroke-width="3.4"/>
<circle cx="199.8" cy="990.2" r="8.6" fill="#e8e8f0" stroke="#111" stroke-width="3"/>
<circle cx="199.8" cy="990.2" r="5.6" fill="#fff" stroke="#111" stroke-width="1"/>
<line x1="199.8" y1="984" x2="199.8" y2="996.4" stroke="#111" stroke-width="2.2"/>
<line x1="241.4" y1="933" x2="241.4" y2="1048.6" stroke="#111" stroke-width="4.2"/>
<rect x="243.6" y="933" width="4.2" height="115.6" fill="#b4b4bc" stroke="none" stroke-width="0"/>
<line x1="588.6" y1="933" x2="588.6" y2="1048.6" stroke="#111" stroke-width="2.4"/>
<line x1="166.9" y1="933" x2="166.9" y2="1048.6" stroke="#111" stroke-width="1.8"/>
<rect x="249.2" y="913.2" width="336.4" height="154.4" fill="#d1d1e1" stroke="#111" stroke-width="2" rx="3"/>
<rect x="249.2" y="913.2" width="336.4" height="154.4" fill="none" stroke="#d1d1e1" stroke-width="2.4" stroke-dasharray="2.6 24" rx="3"/>
<circle cx="279.6" cy="929.1" r="1.7" fill="#1c1c1c" stroke="#111" stroke-width="0.4"/>
<line x1="277.2" y1="929.5" x2="281.6" y2="928.5" stroke="#111" stroke-width="0.9"/>
<circle cx="279.6" cy="944.42" r="1.7" fill="#1c1c1c" stroke="#111" stroke-width="0.4"/>
<line x1="277.2" y1="944.82" x2="281.6" y2="943.82" stroke="#111" stroke-width="0.9"/>
<circle cx="279.6" cy="959.74" r="1.7" fill="#1c1c1c" stroke="#111" stroke-width="0.4"/>
<line x1="277.2" y1="960.14" x2="281.6" y2="959.14" stroke="#111" stroke-width="0.9"/>
<circle cx="279.6" cy="975.06" r="1.7" fill="#1c1c1c" stroke="#111" stroke-width="0.4"/>
<line x1="277.2" y1="975.46" x2="281.6" y2="974.46" stroke="#111" stroke-width="0.9"/>
<circle cx="279.6" cy="990.38" r="1.7" fill="#1c1c1c" stroke="#111" stroke-width="0.4"/>
<line x1="277.2" y1="990.78" x2="281.6" y2="989.78" stroke="#111" stroke-width="0.9"/>
<circle cx="279.6" cy="1005.7" r="1.7" fill="#1c1c1c" stroke="#111" stroke-width="0.4"/>
<line x1="277.2" y1="1006.1" x2="281.6" y2="1005.1" stroke="#111" stroke-width="0.9"/>
<circle cx="279.6" cy="1021.02" r="1.7" fill="#1c1c1c" stroke="#111" stroke-width="0.4"/>
<line x1="277.2" y1="1021.42" x2="281.6" y2="1020.42" stroke="#111" stroke-width="0.9"/>
<circle cx="279.6" cy="1036.34" r="1.7" fill="#1c1c1c" stroke="#111" stroke-width="0.4"/>
<line x1="277.2" y1="1036.74" x2="281.6" y2="1035.74" stroke="#111" stroke-width="0.9"/>
<circle cx="279.6" cy="1051.66" r="1.7" fill="#1c1c1c" stroke="#111" stroke-width="0.4"/>
<line x1="277.2" y1="1052.06" x2="281.6" y2="1051.06" stroke="#111" stroke-width="0.9"/>
<circle cx="297" cy="929.1" r="1.7" fill="#1c1c1c" stroke="#111" stroke-width="0.4"/>
<line x1="294.6" y1="929.5" x2="299" y2="928.5" stroke="#111" stroke-width="0.9"/>
<circle cx="297" cy="944.42" r="1.7" fill="#1c1c1c" stroke="#111" stroke-width="0.4"/>
<line x1="294.6" y1="944.82" x2="299" y2="943.82" stroke="#111" stroke-width="0.9"/>
<circle cx="297" cy="959.74" r="1.7" fill="#1c1c1c" stroke="#111" stroke-width="0.4"/>
<line x1="294.6" y1="960.14" x2="299" y2="959.14" stroke="#111" stroke-width="0.9"/>
<circle cx="297" cy="975.06" r="1.7" fill="#1c1c1c" stroke="#111" stroke-width="0.4"/>
<line x1="294.6" y1="975.46" x2="299" y2="974.46" stroke="#111" stroke-width="0.9"/>
<circle cx="297" cy="990.38" r="1.7" fill="#1c1c1c" stroke="#111" stroke-width="0.4"/>
<line x1="294.6" y1="990.78" x2="299" y2="989.78" stroke="#111" stroke-width="0.9"/>
<circle cx="297" cy="1005.7" r="1.7" fill="#1c1c1c" stroke="#111" stroke-width="0.4"/>
<line x1="294.6" y1="1006.1" x2="299" y2="1005.1" stroke="#111" stroke-width="0.9"/>
<circle cx="297" cy="1021.02" r="1.7" fill="#1c1c1c" stroke="#111" stroke-width="0.4"/>
<line x1="294.6" y1="1021.42" x2="299" y2="1020.42" stroke="#111" stroke-width="0.9"/>
<circle cx="297" cy="1036.34" r="1.7" fill="#1c1c1c" stroke="#111" stroke-width="0.4"/>
<line x1="294.6" y1="1036.74" x2="299" y2="1035.74" stroke="#111" stroke-width="0.9"/>
<circle cx="297" cy="1051.66" r="1.7" fill="#1c1c1c" stroke="#111" stroke-width="0.4"/>
<line x1="294.6" y1="1052.06" x2="299" y2="1051.06" stroke="#111" stroke-width="0.9"/>
<circle cx="314.5" cy="929.1" r="1.7" fill="#1c1c1c" stroke="#111" stroke-width="0.4"/>
<line x1="312.1" y1="929.5" x2="316.5" y2="928.5" stroke="#111" stroke-width="0.9"/>
<circle cx="314.5" cy="944.42" r="1.7" fill="#1c1c1c" stroke="#111" stroke-width="0.4"/>
<line x1="312.1" y1="944.82" x2="316.5" y2="943.82" stroke="#111" stroke-width="0.9"/>
<circle cx="314.5" cy="959.74" r="1.7" fill="#1c1c1c" stroke="#111" stroke-width="0.4"/>
<line x1="312.1" y1="960.14" x2="316.5" y2="959.14" stroke="#111" stroke-width="0.9"/>
<circle cx="314.5" cy="975.06" r="1.7" fill="#1c1c1c" stroke="#111" stroke-width="0.4"/>
<line x1="312.1" y1="975.46" x2="316.5" y2="974.46" stroke="#111" stroke-width="0.9"/>
<circle cx="314.5" cy="990.38" r="1.7" fill="#1c1c1c" stroke="#111" stroke-width="0.4"/>
<line x1="312.1" y1="990.78" x2="316.5" y2="989.78" stroke="#111" stroke-width="0.9"/>
<circle cx="314.5" cy="1005.7" r="1.7" fill="#1c1c1c" stroke="#111" stroke-width="0.4"/>
<line x1="312.1" y1="1006.1" x2="316.5" y2="1005.1" stroke="#111" stroke-width="0.9"/>
<circle cx="314.5" cy="1021.02" r="1.7" fill="#1c1c1c" stroke="#111" stroke-width="0.4"/>
<line x1="312.1" y1="1021.42" x2="316.5" y2="1020.42" stroke="#111" stroke-width="0.9"/>
<circle cx="314.5" cy="1036.34" r="1.7" fill="#1c1c1c" stroke="#111" stroke-width="0.4"/>
<line x1="312.1" y1="1036.74" x2="316.5" y2="1035.74" stroke="#111" stroke-width="0.9"/>
<circle cx="314.5" cy="1051.66" r="1.7" fill="#1c1c1c" stroke="#111" stroke-width="0.4"/>
<line x1="312.1" y1="1052.06" x2="316.5" y2="1051.06" stroke="#111" stroke-width="0.9"/>
<circle cx="364.2" cy="929.1" r="1.7" fill="#1c1c1c" stroke="#111" stroke-width="0.4"/>
<line x1="361.8" y1="929.5" x2="366.2" y2="928.5" stroke="#111" stroke-width="0.9"/>
<circle cx="364.2" cy="944.42" r="1.7" fill="#1c1c1c" stroke="#111" stroke-width="0.4"/>
<line x1="361.8" y1="944.82" x2="366.2" y2="943.82" stroke="#111" stroke-width="0.9"/>
<circle cx="364.2" cy="959.74" r="1.7" fill="#1c1c1c" stroke="#111" stroke-width="0.4"/>
<line x1="361.8" y1="960.14" x2="366.2" y2="959.14" stroke="#111" stroke-width="0.9"/>
<circle cx="364.2" cy="975.06" r="1.7" fill="#1c1c1c" stroke="#111" stroke-width="0.4"/>
<line x1="361.8" y1="975.46" x2="366.2" y2="974.46" stroke="#111" stroke-width="0.9"/>
<circle cx="364.2" cy="990.38" r="1.7" fill="#1c1c1c" stroke="#111" stroke-width="0.4"/>
<line x1="361.8" y1="990.78" x2="366.2" y2="989.78" stroke="#111" stroke-width="0.9"/>
<circle cx="364.2" cy="1005.7" r="1.7" fill="#1c1c1c" stroke="#111" stroke-width="0.4"/>
<line x1="361.8" y1="1006.1" x2="366.2" y2="1005.1" stroke="#111" stroke-width="0.9"/>
<circle cx="364.2" cy="1021.02" r="1.7" fill="#1c1c1c" stroke="#111" stroke-width="0.4"/>
<line x1="361.8" y1="1021.42" x2="366.2" y2="1020.42" stroke="#111" stroke-width="0.9"/>
<circle cx="364.2" cy="1036.34" r="1.7" fill="#1c1c1c" stroke="#111" stroke-width="0.4"/>
<line x1="361.8" y1="1036.74" x2="366.2" y2="1035.74" stroke="#111" stroke-width="0.9"/>
<circle cx="364.2" cy="1051.66" r="1.7" fill="#1c1c1c" stroke="#111" stroke-width="0.4"/>
<line x1="361.8" y1="1052.06" x2="366.2" y2="1051.06" stroke="#111" stroke-width="0.9"/>
<circle cx="381.6" cy="929.1" r="1.7" fill="#1c1c1c" stroke="#111" stroke-width="0.4"/>
<line x1="379.2" y1="929.5" x2="383.6" y2="928.5" stroke="#111" stroke-width="0.9"/>
<circle cx="381.6" cy="944.42" r="1.7" fill="#1c1c1c" stroke="#111" stroke-width="0.4"/>
<line x1="379.2" y1="944.82" x2="383.6" y2="943.82" stroke="#111" stroke-width="0.9"/>
<circle cx="381.6" cy="959.74" r="1.7" fill="#1c1c1c" stroke="#111" stroke-width="0.4"/>
<line x1="379.2" y1="960.14" x2="383.6" y2="959.14" stroke="#111" stroke-width="0.9"/>
<circle cx="381.6" cy="975.06" r="1.7" fill="#1c1c1c" stroke="#111" stroke-width="0.4"/>
<line x1="379.2" y1="975.46" x2="383.6" y2="974.46" stroke="#111" stroke-width="0.9"/>
<circle cx="381.6" cy="990.38" r="1.7" fill="#1c1c1c" stroke="#111" stroke-width="0.4"/>
<line x1="379.2" y1="990.78" x2="383.6" y2="989.78" stroke="#111" stroke-width="0.9"/>
<circle cx="381.6" cy="1005.7" r="1.7" fill="#1c1c1c" stroke="#111" stroke-width="0.4"/>
<line x1="379.2" y1="1006.1" x2="383.6" y2="1005.1" stroke="#111" stroke-width="0.9"/>
<circle cx="381.6" cy="1021.02" r="1.7" fill="#1c1c1c" stroke="#111" stroke-width="0.4"/>
<line x1="379.2" y1="1021.42" x2="383.6" y2="1020.42" stroke="#111" stroke-width="0.9"/>
<circle cx="381.6" cy="1036.34" r="1.7" fill="#1c1c1c" stroke="#111" stroke-width="0.4"/>
<line x1="379.2" y1="1036.74" x2="383.6" y2="1035.74" stroke="#111" stroke-width="0.9"/>
<circle cx="381.6" cy="1051.66" r="1.7" fill="#1c1c1c" stroke="#111" stroke-width="0.4"/>
<line x1="379.2" y1="1052.06" x2="383.6" y2="1051.06" stroke="#111" stroke-width="0.9"/>
<circle cx="399" cy="929.1" r="1.7" fill="#1c1c1c" stroke="#111" stroke-width="0.4"/>
<line x1="396.6" y1="929.5" x2="401" y2="928.5" stroke="#111" stroke-width="0.9"/>
<circle cx="399" cy="944.42" r="1.7" fill="#1c1c1c" stroke="#111" stroke-width="0.4"/>
<line x1="396.6" y1="944.82" x2="401" y2="943.82" stroke="#111" stroke-width="0.9"/>
<circle cx="399" cy="959.74" r="1.7" fill="#1c1c1c" stroke="#111" stroke-width="0.4"/>
<line x1="396.6" y1="960.14" x2="401" y2="959.14" stroke="#111" stroke-width="0.9"/>
<circle cx="399" cy="975.06" r="1.7" fill="#1c1c1c" stroke="#111" stroke-width="0.4"/>
<line x1="396.6" y1="975.46" x2="401" y2="974.46" stroke="#111" stroke-width="0.9"/>
<circle cx="399" cy="990.38" r="1.7" fill="#1c1c1c" stroke="#111" stroke-width="0.4"/>
<line x1="396.6" y1="990.78" x2="401" y2="989.78" stroke="#111" stroke-width="0.9"/>
<circle cx="399" cy="1005.7" r="1.7" fill="#1c1c1c" stroke="#111" stroke-width="0.4"/>
<line x1="396.6" y1="1006.1" x2="401" y2="1005.1" stroke="#111" stroke-width="0.9"/>
<circle cx="399" cy="1021.02" r="1.7" fill="#1c1c1c" stroke="#111" stroke-width="0.4"/>
<line x1="396.6" y1="1021.42" x2="401" y2="1020.42" stroke="#111" stroke-width="0.9"/>
<circle cx="399" cy="1036.34" r="1.7" fill="#1c1c1c" stroke="#111" stroke-width="0.4"/>
<line x1="396.6" y1="1036.74" x2="401" y2="1035.74" stroke="#111" stroke-width="0.9"/>
<circle cx="399" cy="1051.66" r="1.7" fill="#1c1c1c" stroke="#111" stroke-width="0.4"/>
<line x1="396.6" y1="1052.06" x2="401" y2="1051.06" stroke="#111" stroke-width="0.9"/>
<circle cx="416.2" cy="929.1" r="1.7" fill="#1c1c1c" stroke="#111" stroke-width="0.4"/>
<line x1="413.8" y1="929.5" x2="418.2" y2="928.5" stroke="#111" stroke-width="0.9"/>
<circle cx="416.2" cy="944.42" r="1.7" fill="#1c1c1c" stroke="#111" stroke-width="0.4"/>
<line x1="413.8" y1="944.82" x2="418.2" y2="943.82" stroke="#111" stroke-width="0.9"/>
<circle cx="416.2" cy="959.74" r="1.7" fill="#1c1c1c" stroke="#111" stroke-width="0.4"/>
<line x1="413.8" y1="960.14" x2="418.2" y2="959.14" stroke="#111" stroke-width="0.9"/>
<circle cx="416.2" cy="975.06" r="1.7" fill="#1c1c1c" stroke="#111" stroke-width="0.4"/>
<line x1="413.8" y1="975.46" x2="418.2" y2="974.46" stroke="#111" stroke-width="0.9"/>
<circle cx="416.2" cy="990.38" r="1.7" fill="#1c1c1c" stroke="#111" stroke-width="0.4"/>
<line x1="413.8" y1="990.78" x2="418.2" y2="989.78" stroke="#111" stroke-width="0.9"/>
<circle cx="416.2" cy="1005.7" r="1.7" fill="#1c1c1c" stroke="#111" stroke-width="0.4"/>
<line x1="413.8" y1="1006.1" x2="418.2" y2="1005.1" stroke="#111" stroke-width="0.9"/>
<circle cx="416.2" cy="1021.02" r="1.7" fill="#1c1c1c" stroke="#111" stroke-width="0.4"/>
<line x1="413.8" y1="1021.42" x2="418.2" y2="1020.42" stroke="#111" stroke-width="0.9"/>
<circle cx="416.2" cy="1036.34" r="1.7" fill="#1c1c1c" stroke="#111" stroke-width="0.4"/>
<line x1="413.8" y1="1036.74" x2="418.2" y2="1035.74" stroke="#111" stroke-width="0.9"/>
<circle cx="416.2" cy="1051.66" r="1.7" fill="#1c1c1c" stroke="#111" stroke-width="0.4"/>
<line x1="413.8" y1="1052.06" x2="418.2" y2="1051.06" stroke="#111" stroke-width="0.9"/>
<circle cx="433.4" cy="929.1" r="1.7" fill="#1c1c1c" stroke="#111" stroke-width="0.4"/>
<line x1="431" y1="929.5" x2="435.4" y2="928.5" stroke="#111" stroke-width="0.9"/>
<circle cx="433.4" cy="944.42" r="1.7" fill="#1c1c1c" stroke="#111" stroke-width="0.4"/>
<line x1="431" y1="944.82" x2="435.4" y2="943.82" stroke="#111" stroke-width="0.9"/>
<circle cx="433.4" cy="959.74" r="1.7" fill="#1c1c1c" stroke="#111" stroke-width="0.4"/>
<line x1="431" y1="960.14" x2="435.4" y2="959.14" stroke="#111" stroke-width="0.9"/>
<circle cx="433.4" cy="975.06" r="1.7" fill="#1c1c1c" stroke="#111" stroke-width="0.4"/>
<line x1="431" y1="975.46" x2="435.4" y2="974.46" stroke="#111" stroke-width="0.9"/>
<circle cx="433.4" cy="990.38" r="1.7" fill="#1c1c1c" stroke="#111" stroke-width="0.4"/>
<line x1="431" y1="990.78" x2="435.4" y2="989.78" stroke="#111" stroke-width="0.9"/>
<circle cx="433.4" cy="1005.7" r="1.7" fill="#1c1c1c" stroke="#111" stroke-width="0.4"/>
<line x1="431" y1="1006.1" x2="435.4" y2="1005.1" stroke="#111" stroke-width="0.9"/>
<circle cx="433.4" cy="1021.02" r="1.7" fill="#1c1c1c" stroke="#111" stroke-width="0.4"/>
<line x1="431" y1="1021.42" x2="435.4" y2="1020.42" stroke="#111" stroke-width="0.9"/>
<circle cx="433.4" cy="1036.34" r="1.7" fill="#1c1c1c" stroke="#111" stroke-width="0.4"/>
<line x1="431" y1="1036.74" x2="435.4" y2="1035.74" stroke="#111" stroke-width="0.9"/>
<circle cx="433.4" cy="1051.66" r="1.7" fill="#1c1c1c" stroke="#111" stroke-width="0.4"/>
<line x1="431" y1="1052.06" x2="435.4" y2="1051.06" stroke="#111" stroke-width="0.9"/>
<circle cx="467.8" cy="929.1" r="1.7" fill="#1c1c1c" stroke="#111" stroke-width="0.4"/>
<line x1="465.4" y1="929.5" x2="469.8" y2="928.5" stroke="#111" stroke-width="0.9"/>
<circle cx="467.8" cy="944.42" r="1.7" fill="#1c1c1c" stroke="#111" stroke-width="0.4"/>
<line x1="465.4" y1="944.82" x2="469.8" y2="943.82" stroke="#111" stroke-width="0.9"/>
<circle cx="467.8" cy="959.74" r="1.7" fill="#1c1c1c" stroke="#111" stroke-width="0.4"/>
<line x1="465.4" y1="960.14" x2="469.8" y2="959.14" stroke="#111" stroke-width="0.9"/>
<circle cx="467.8" cy="975.06" r="1.7" fill="#1c1c1c" stroke="#111" stroke-width="0.4"/>
<line x1="465.4" y1="975.46" x2="469.8" y2="974.46" stroke="#111" stroke-width="0.9"/>
<circle cx="467.8" cy="990.38" r="1.7" fill="#1c1c1c" stroke="#111" stroke-width="0.4"/>
<line x1="465.4" y1="990.78" x2="469.8" y2="989.78" stroke="#111" stroke-width="0.9"/>
<circle cx="467.8" cy="1005.7" r="1.7" fill="#1c1c1c" stroke="#111" stroke-width="0.4"/>
<line x1="465.4" y1="1006.1" x2="469.8" y2="1005.1" stroke="#111" stroke-width="0.9"/>
<circle cx="467.8" cy="1021.02" r="1.7" fill="#1c1c1c" stroke="#111" stroke-width="0.4"/>
<line x1="465.4" y1="1021.42" x2="469.8" y2="1020.42" stroke="#111" stroke-width="0.9"/>
<circle cx="467.8" cy="1036.34" r="1.7" fill="#1c1c1c" stroke="#111" stroke-width="0.4"/>
<line x1="465.4" y1="1036.74" x2="469.8" y2="1035.74" stroke="#111" stroke-width="0.9"/>
<circle cx="467.8" cy="1051.66" r="1.7" fill="#1c1c1c" stroke="#111" stroke-width="0.4"/>
<line x1="465.4" y1="1052.06" x2="469.8" y2="1051.06" stroke="#111" stroke-width="0.9"/>
<circle cx="484.7" cy="929.1" r="1.7" fill="#1c1c1c" stroke="#111" stroke-width="0.4"/>
<line x1="482.3" y1="929.5" x2="486.7" y2="928.5" stroke="#111" stroke-width="0.9"/>
<circle cx="484.7" cy="944.42" r="1.7" fill="#1c1c1c" stroke="#111" stroke-width="0.4"/>
<line x1="482.3" y1="944.82" x2="486.7" y2="943.82" stroke="#111" stroke-width="0.9"/>
<circle cx="484.7" cy="959.74" r="1.7" fill="#1c1c1c" stroke="#111" stroke-width="0.4"/>
<line x1="482.3" y1="960.14" x2="486.7" y2="959.14" stroke="#111" stroke-width="0.9"/>
<circle cx="484.7" cy="975.06" r="1.7" fill="#1c1c1c" stroke="#111" stroke-width="0.4"/>
<line x1="482.3" y1="975.46" x2="486.7" y2="974.46" stroke="#111" stroke-width="0.9"/>
<circle cx="484.7" cy="990.38" r="1.7" fill="#1c1c1c" stroke="#111" stroke-width="0.4"/>
<line x1="482.3" y1="990.78" x2="486.7" y2="989.78" stroke="#111" stroke-width="0.9"/>
<circle cx="484.7" cy="1005.7" r="1.7" fill="#1c1c1c" stroke="#111" stroke-width="0.4"/>
<line x1="482.3" y1="1006.1" x2="486.7" y2="1005.1" stroke="#111" stroke-width="0.9"/>
<circle cx="484.7" cy="1021.02" r="1.7" fill="#1c1c1c" stroke="#111" stroke-width="0.4"/>
<line x1="482.3" y1="1021.42" x2="486.7" y2="1020.42" stroke="#111" stroke-width="0.9"/>
<circle cx="484.7" cy="1036.34" r="1.7" fill="#1c1c1c" stroke="#111" stroke-width="0.4"/>
<line x1="482.3" y1="1036.74" x2="486.7" y2="1035.74" stroke="#111" stroke-width="0.9"/>
<circle cx="484.7" cy="1051.66" r="1.7" fill="#1c1c1c" stroke="#111" stroke-width="0.4"/>
<line x1="482.3" y1="1052.06" x2="486.7" y2="1051.06" stroke="#111" stroke-width="0.9"/>
<circle cx="501.6" cy="929.1" r="1.7" fill="#1c1c1c" stroke="#111" stroke-width="0.4"/>
<line x1="499.2" y1="929.5" x2="503.6" y2="928.5" stroke="#111" stroke-width="0.9"/>
<circle cx="501.6" cy="944.42" r="1.7" fill="#1c1c1c" stroke="#111" stroke-width="0.4"/>
<line x1="499.2" y1="944.82" x2="503.6" y2="943.82" stroke="#111" stroke-width="0.9"/>
<circle cx="501.6" cy="959.74" r="1.7" fill="#1c1c1c" stroke="#111" stroke-width="0.4"/>
<line x1="499.2" y1="960.14" x2="503.6" y2="959.14" stroke="#111" stroke-width="0.9"/>
<circle cx="501.6" cy="975.06" r="1.7" fill="#1c1c1c" stroke="#111" stroke-width="0.4"/>
<line x1="499.2" y1="975.46" x2="503.6" y2="974.46" stroke="#111" stroke-width="0.9"/>
<circle cx="501.6" cy="990.38" r="1.7" fill="#1c1c1c" stroke="#111" stroke-width="0.4"/>
<line x1="499.2" y1="990.78" x2="503.6" y2="989.78" stroke="#111" stroke-width="0.9"/>
<circle cx="501.6" cy="1005.7" r="1.7" fill="#1c1c1c" stroke="#111" stroke-width="0.4"/>
<line x1="499.2" y1="1006.1" x2="503.6" y2="1005.1" stroke="#111" stroke-width="0.9"/>
<circle cx="501.6" cy="1021.02" r="1.7" fill="#1c1c1c" stroke="#111" stroke-width="0.4"/>
<line x1="499.2" y1="1021.42" x2="503.6" y2="1020.42" stroke="#111" stroke-width="0.9"/>
<circle cx="501.6" cy="1036.34" r="1.7" fill="#1c1c1c" stroke="#111" stroke-width="0.4"/>
<line x1="499.2" y1="1036.74" x2="503.6" y2="1035.74" stroke="#111" stroke-width="0.9"/>
<circle cx="501.6" cy="1051.66" r="1.7" fill="#1c1c1c" stroke="#111" stroke-width="0.4"/>
<line x1="499.2" y1="1052.06" x2="503.6" y2="1051.06" stroke="#111" stroke-width="0.9"/>
<circle cx="518.6" cy="929.1" r="1.7" fill="#1c1c1c" stroke="#111" stroke-width="0.4"/>
<line x1="516.2" y1="929.5" x2="520.6" y2="928.5" stroke="#111" stroke-width="0.9"/>
<circle cx="518.6" cy="944.42" r="1.7" fill="#1c1c1c" stroke="#111" stroke-width="0.4"/>
<line x1="516.2" y1="944.82" x2="520.6" y2="943.82" stroke="#111" stroke-width="0.9"/>
<circle cx="518.6" cy="959.74" r="1.7" fill="#1c1c1c" stroke="#111" stroke-width="0.4"/>
<line x1="516.2" y1="960.14" x2="520.6" y2="959.14" stroke="#111" stroke-width="0.9"/>
<circle cx="518.6" cy="975.06" r="1.7" fill="#1c1c1c" stroke="#111" stroke-width="0.4"/>
<line x1="516.2" y1="975.46" x2="520.6" y2="974.46" stroke="#111" stroke-width="0.9"/>
<circle cx="518.6" cy="990.38" r="1.7" fill="#1c1c1c" stroke="#111" stroke-width="0.4"/>
<line x1="516.2" y1="990.78" x2="520.6" y2="989.78" stroke="#111" stroke-width="0.9"/>
<circle cx="518.6" cy="1005.7" r="1.7" fill="#1c1c1c" stroke="#111" stroke-width="0.4"/>
<line x1="516.2" y1="1006.1" x2="520.6" y2="1005.1" stroke="#111" stroke-width="0.9"/>
<circle cx="518.6" cy="1021.02" r="1.7" fill="#1c1c1c" stroke="#111" stroke-width="0.4"/>
<line x1="516.2" y1="1021.42" x2="520.6" y2="1020.42" stroke="#111" stroke-width="0.9"/>
<circle cx="518.6" cy="1036.34" r="1.7" fill="#1c1c1c" stroke="#111" stroke-width="0.4"/>
<line x1="516.2" y1="1036.74" x2="520.6" y2="1035.74" stroke="#111" stroke-width="0.9"/>
<circle cx="518.6" cy="1051.66" r="1.7" fill="#1c1c1c" stroke="#111" stroke-width="0.4"/>
<line x1="516.2" y1="1052.06" x2="520.6" y2="1051.06" stroke="#111" stroke-width="0.9"/>
<circle cx="535.5" cy="929.1" r="1.7" fill="#1c1c1c" stroke="#111" stroke-width="0.4"/>
<line x1="533.1" y1="929.5" x2="537.5" y2="928.5" stroke="#111" stroke-width="0.9"/>
<circle cx="535.5" cy="944.42" r="1.7" fill="#1c1c1c" stroke="#111" stroke-width="0.4"/>
<line x1="533.1" y1="944.82" x2="537.5" y2="943.82" stroke="#111" stroke-width="0.9"/>
<circle cx="535.5" cy="959.74" r="1.7" fill="#1c1c1c" stroke="#111" stroke-width="0.4"/>
<line x1="533.1" y1="960.14" x2="537.5" y2="959.14" stroke="#111" stroke-width="0.9"/>
<circle cx="535.5" cy="975.06" r="1.7" fill="#1c1c1c" stroke="#111" stroke-width="0.4"/>
<line x1="533.1" y1="975.46" x2="537.5" y2="974.46" stroke="#111" stroke-width="0.9"/>
<circle cx="535.5" cy="990.38" r="1.7" fill="#1c1c1c" stroke="#111" stroke-width="0.4"/>
<line x1="533.1" y1="990.78" x2="537.5" y2="989.78" stroke="#111" stroke-width="0.9"/>
<circle cx="535.5" cy="1005.7" r="1.7" fill="#1c1c1c" stroke="#111" stroke-width="0.4"/>
<line x1="533.1" y1="1006.1" x2="537.5" y2="1005.1" stroke="#111" stroke-width="0.9"/>
<circle cx="535.5" cy="1021.02" r="1.7" fill="#1c1c1c" stroke="#111" stroke-width="0.4"/>
<line x1="533.1" y1="1021.42" x2="537.5" y2="1020.42" stroke="#111" stroke-width="0.9"/>
<circle cx="535.5" cy="1036.34" r="1.7" fill="#1c1c1c" stroke="#111" stroke-width="0.4"/>
<line x1="533.1" y1="1036.74" x2="537.5" y2="1035.74" stroke="#111" stroke-width="0.9"/>
<circle cx="535.5" cy="1051.66" r="1.7" fill="#1c1c1c" stroke="#111" stroke-width="0.4"/>
<line x1="533.1" y1="1052.06" x2="537.5" y2="1051.06" stroke="#111" stroke-width="0.9"/>
<circle cx="552.4" cy="929.1" r="1.7" fill="#1c1c1c" stroke="#111" stroke-width="0.4"/>
<line x1="550" y1="929.5" x2="554.4" y2="928.5" stroke="#111" stroke-width="0.9"/>
<circle cx="552.4" cy="944.42" r="1.7" fill="#1c1c1c" stroke="#111" stroke-width="0.4"/>
<line x1="550" y1="944.82" x2="554.4" y2="943.82" stroke="#111" stroke-width="0.9"/>
<circle cx="552.4" cy="959.74" r="1.7" fill="#1c1c1c" stroke="#111" stroke-width="0.4"/>
<line x1="550" y1="960.14" x2="554.4" y2="959.14" stroke="#111" stroke-width="0.9"/>
<circle cx="552.4" cy="975.06" r="1.7" fill="#1c1c1c" stroke="#111" stroke-width="0.4"/>
<line x1="550" y1="975.46" x2="554.4" y2="974.46" stroke="#111" stroke-width="0.9"/>
<circle cx="552.4" cy="990.38" r="1.7" fill="#1c1c1c" stroke="#111" stroke-width="0.4"/>
<line x1="550" y1="990.78" x2="554.4" y2="989.78" stroke="#111" stroke-width="0.9"/>
<circle cx="552.4" cy="1005.7" r="1.7" fill="#1c1c1c" stroke="#111" stroke-width="0.4"/>
<line x1="550" y1="1006.1" x2="554.4" y2="1005.1" stroke="#111" stroke-width="0.9"/>
<circle cx="552.4" cy="1021.02" r="1.7" fill="#1c1c1c" stroke="#111" stroke-width="0.4"/>
<line x1="550" y1="1021.42" x2="554.4" y2="1020.42" stroke="#111" stroke-width="0.9"/>
<circle cx="552.4" cy="1036.34" r="1.7" fill="#1c1c1c" stroke="#111" stroke-width="0.4"/>
<line x1="550" y1="1036.74" x2="554.4" y2="1035.74" stroke="#111" stroke-width="0.9"/>
<circle cx="552.4" cy="1051.66" r="1.7" fill="#1c1c1c" stroke="#111" stroke-width="0.4"/>
<line x1="550" y1="1052.06" x2="554.4" y2="1051.06" stroke="#111" stroke-width="0.9"/>
<line x1="465" y1="751" x2="465" y2="781.2" stroke="#111" stroke-width="2.4"/>
<line x1="465" y1="876.2" x2="465" y2="1103.6" stroke="#111" stroke-width="2.4"/>
<line x1="465" y1="1197.6" x2="465" y2="1229.8" stroke="#111" stroke-width="2.4"/>
<line x1="241" y1="893.3" x2="241" y2="1090.6" stroke="#111" stroke-width="1.5"/>
<line x1="240.4" y1="893.3" x2="252" y2="893.3" stroke="#111" stroke-width="1.6"/>
<polygon points="260.2,893.3 249.2,896 249.2,890.6" fill="#111"/>
<text x="260" y="898.8" font-size="13" fill="#333" textLength="18.6" lengthAdjust="spacingAndGlyphs">AH</text>
<line x1="240.4" y1="1090.6" x2="252" y2="1090.6" stroke="#111" stroke-width="1.6"/>
<polygon points="260.2,1090.6 249.2,1093.3 249.2,1087.9" fill="#111"/>
<text x="260" y="1095.6" font-size="13" fill="#333" textLength="18.6" lengthAdjust="spacingAndGlyphs">AH</text>
<line x1="16.2" y1="1036.8" x2="781" y2="1036.8" stroke="#111" stroke-width="2" stroke-dasharray="38.4 6.9 8.8 6.3 8.8 6.3" stroke-dashoffset="12.6"/>
<line x1="16.2" y1="1035.8" x2="16.2" y2="1047" stroke="#111" stroke-width="2"/>
<polygon points="16.2,1056.2 12.7,1044.8 19.7,1044.8" fill="#111"/>
<line x1="781" y1="1035.8" x2="781" y2="1047" stroke="#111" stroke-width="2"/>
<polygon points="781,1056.2 777.5,1044.8 784.5,1044.8" fill="#111"/>
<text x="6.4" y="1072.4" font-size="13" fill="#3a3a3a" textLength="20.6" lengthAdjust="spacingAndGlyphs">AG</text>
<text x="771" y="1072.4" font-size="13" fill="#3a3a3a" textLength="20.6" lengthAdjust="spacingAndGlyphs">AG</text>
<line x1="629.9" y1="838.8" x2="781" y2="838.8" stroke="#111" stroke-width="1.1"/>
<line x1="629.9" y1="838.8" x2="549.8" y2="913.2" stroke="#111" stroke-width="1.1"/>
<polygon points="549.8,913.2 555.87,904.15 559.27,907.82" fill="#111"/>
<line x1="781" y1="838.8" x2="802" y2="818.1" stroke="#111" stroke-width="1.1"/>
<line x1="781" y1="838.8" x2="802" y2="860.3" stroke="#111" stroke-width="1.1"/>
<polyline points="694.4,838.8 694.4,860.3 716,838.8" fill="none" stroke="#111" stroke-width="1.1"/>
<text x="674.8" y="859.7" font-size="14.4" fill="#111">1/8</text>
<text x="806" y="808.7" font-size="14.4" fill="#111">UNDERSIDE ONLY</text>
<text x="806" y="826.42" font-size="14.4" fill="#111">INSIDE NOTCHES</text>
<text x="806" y="844.14" font-size="14.4" fill="#111">KEEP ALL WELDS</text>
<text x="806" y="861.86" font-size="14.4" fill="#111">1/2&quot; BACK FROM</text>
<text x="806" y="879.58" font-size="14.4" fill="#111">FLANGE EDGE</text>
<line x1="575.3" y1="991" x2="669.4" y2="955.8" stroke="#111" stroke-width="1.1"/>
<circle cx="575.3" cy="991" r="1.3" fill="#111" stroke="#111" stroke-width="0.3"/>
<circle cx="669.4" cy="955.8" r="16.1" fill="#fff" stroke="#111" stroke-width="1.1"/>
<text x="669.4" y="961.02" font-size="14.5" fill="#111" text-anchor="middle">6</text>
<text x="414.8" y="1283.5" font-size="14.4" fill="#111" text-anchor="middle">SECTION AA-AA</text>
<text x="414.8" y="1300.2" font-size="14.4" fill="#111" text-anchor="middle">SCALE 1 : 32</text>
<rect x="753" y="1378.8" width="47.8" height="20.8" fill="#0a0a0a" stroke="none" stroke-width="0"/>
<rect x="755.4" y="1380.6" width="39.4" height="13.2" fill="#c9c9dc" stroke="none" stroke-width="0"/>
<polyline points="755.4,1380.6 758.6,1387 756.4,1393.6" fill="none" stroke="#111" stroke-width="2.2"/>
<line x1="761.6" y1="1380.6" x2="766" y2="1393.6" stroke="#111" stroke-width="1.8"/>
<polygon points="752.8,1401.7 835.6,1401.7 838,1398.9 1221.6,1390.6 1221.6,1448.4 835.6,1445.6 752.8,1442.4" fill="#d0d0e2" stroke="#111" stroke-width="2"/>
<line x1="752.8" y1="1401.7" x2="836" y2="1401.7" stroke="#111" stroke-width="2.2"/>
<line x1="752.8" y1="1405.5" x2="835" y2="1405.5" stroke="#111" stroke-width="1.8"/>
<line x1="838" y1="1402" x2="1221" y2="1393.7" stroke="#111" stroke-width="2.4"/>
<polyline points="752.8,1438.4 835,1442.4 1221,1445.2" fill="none" stroke="#111" stroke-width="1.2"/>
<polyline points="752.8,1442.4 835.6,1446 1221.6,1448.6" fill="none" stroke="#111" stroke-width="2.4"/>
<line x1="753.6" y1="1401" x2="753.6" y2="1443" stroke="#111" stroke-width="2.2"/>
<line x1="1220.8" y1="1391" x2="1220.8" y2="1448.6" stroke="#111" stroke-width="2.2"/>
<line x1="815.6" y1="1397.2" x2="819.6" y2="1397.2" stroke="#111" stroke-width="2.4"/>
<line x1="791.4" y1="1423.6" x2="829" y2="1422.4" stroke="#111" stroke-width="4" stroke-linecap="round"/>
<rect x="829.4" y="1406.2" width="12.6" height="22.6" fill="#d8d8ea" stroke="#111" stroke-width="2.8" rx="1.8"/>
<path d="M831.4,1427.4 a4.4,4.4 0 0 1 8.8,0 Z" fill="#b8b8c4" stroke="#111" stroke-width="1.4" />
<line x1="835.2" y1="1401.6" x2="835.2" y2="1446.8" stroke="#111" stroke-width="1.9"/>
<line x1="882.7" y1="1405.2" x2="894.3" y2="1405.2" stroke="#111" stroke-width="3.6" stroke-linecap="round"/>
<line x1="882.7" y1="1422.8" x2="894.3" y2="1422.8" stroke="#111" stroke-width="3.6" stroke-linecap="round"/>
<line x1="888.5" y1="1405.2" x2="888.5" y2="1422.8" stroke="#111" stroke-width="4.6"/>
<line x1="939.2" y1="1404.2" x2="950.8" y2="1404.2" stroke="#111" stroke-width="3.6" stroke-linecap="round"/>
<line x1="939.2" y1="1421.8" x2="950.8" y2="1421.8" stroke="#111" stroke-width="3.6" stroke-linecap="round"/>
<line x1="945" y1="1404.2" x2="945" y2="1421.8" stroke="#111" stroke-width="4.6"/>
<line x1="995.5" y1="1403.2" x2="1007.1" y2="1403.2" stroke="#111" stroke-width="3.6" stroke-linecap="round"/>
<line x1="995.5" y1="1420.8" x2="1007.1" y2="1420.8" stroke="#111" stroke-width="3.6" stroke-linecap="round"/>
<line x1="1001.3" y1="1403.2" x2="1001.3" y2="1420.8" stroke="#111" stroke-width="4.6"/>
<line x1="1046.6" y1="1402.4" x2="1068.6" y2="1402.4" stroke="#111" stroke-width="4.6" stroke-linecap="round"/>
<line x1="1046.6" y1="1437.6" x2="1068.6" y2="1437.6" stroke="#111" stroke-width="4.6" stroke-linecap="round"/>
<line x1="1057.6" y1="1402.4" x2="1057.6" y2="1437.6" stroke="#111" stroke-width="5"/>
<line x1="1108.4" y1="1400.4" x2="1120" y2="1400.4" stroke="#111" stroke-width="3.6" stroke-linecap="round"/>
<line x1="1108.4" y1="1418.8" x2="1120" y2="1418.8" stroke="#111" stroke-width="3.6" stroke-linecap="round"/>
<line x1="1114.2" y1="1400.4" x2="1114.2" y2="1418.8" stroke="#111" stroke-width="4.6"/>
<line x1="1164" y1="1399.6" x2="1175.6" y2="1399.6" stroke="#111" stroke-width="3.6" stroke-linecap="round"/>
<line x1="1164" y1="1435.2" x2="1175.6" y2="1435.2" stroke="#111" stroke-width="3.6" stroke-linecap="round"/>
<line x1="1169.8" y1="1399.6" x2="1169.8" y2="1435.2" stroke="#111" stroke-width="4"/>
<rect x="1168.6" y="1437.6" width="9.4" height="4.8" fill="#e0e0ea" stroke="#111" stroke-width="1.4" rx="1.2"/>
<line x1="1052" y1="1446.4" x2="1052" y2="1450" stroke="#111" stroke-width="1.6"/>
<line x1="1169.6" y1="1444" x2="1169.6" y2="1451.6" stroke="#111" stroke-width="1.8"/>
<line x1="704" y1="1427.2" x2="834.2" y2="1434.2" stroke="#111" stroke-width="1.1"/>
<polygon points="834.2,1434.2 823.48,1436.13 823.75,1431.13" fill="#111"/>
<circle cx="688" cy="1426.2" r="16.1" fill="#fff" stroke="#111" stroke-width="1.1"/>
<text x="688" y="1431.42" font-size="14.5" fill="#111" text-anchor="middle">2</text>
<line x1="1263.4" y1="1421.4" x2="1174" y2="1440" stroke="#111" stroke-width="1.1"/>
<polygon points="1174,1440 1183.87,1435.39 1184.89,1440.29" fill="#111"/>
<circle cx="1278.9" cy="1417.7" r="16.1" fill="#fff" stroke="#111" stroke-width="1.1"/>
<text x="1278.9" y="1422.92" font-size="14.5" fill="#111" text-anchor="middle">1</text>
<line x1="1119.6" y1="1498.8" x2="1099.8" y2="1452" stroke="#111" stroke-width="1.1"/>
<polygon points="1099.8,1452 1106.23,1460.79 1101.63,1462.74" fill="#111"/>
<circle cx="1124" cy="1514.2" r="16.1" fill="#fff" stroke="#111" stroke-width="1.1"/>
<text x="1124" y="1519.42" font-size="14.5" fill="#111" text-anchor="middle">3</text>
<text x="769.1" y="1465.9" font-size="20.95" fill="#111">1/8&quot;</text>
<line x1="835.9" y1="1452.8" x2="835.9" y2="1472.8" stroke="#111" stroke-width="1.3"/>
<line x1="810" y1="1459.2" x2="835.4" y2="1459.2" stroke="#111" stroke-width="1.1"/>
<polygon points="835.2,1459.2 825.7,1461.7 825.7,1456.7" fill="#111"/>
<line x1="836.6" y1="1459.2" x2="855.6" y2="1459.2" stroke="#111" stroke-width="1.1"/>
<polygon points="836.8,1459.2 846.3,1456.7 846.3,1461.7" fill="#111"/>
<text x="1204" y="1477.2" font-size="20.95" fill="#111">3/8&quot;</text>
<line x1="1170.3" y1="1458.5" x2="1170.3" y2="1485.7" stroke="#111" stroke-width="1.1"/>
<line x1="1172.5" y1="1458.5" x2="1172.5" y2="1485.7" stroke="#111" stroke-width="1.1"/>
<line x1="1152" y1="1471" x2="1170.3" y2="1471" stroke="#111" stroke-width="1.1"/>
<polygon points="1170.3,1471 1160.8,1473.5 1160.8,1468.5" fill="#111"/>
<line x1="1172.5" y1="1471" x2="1196.9" y2="1471" stroke="#111" stroke-width="1.1"/>
<polygon points="1172.5,1471 1182,1468.5 1182,1473.5" fill="#111"/>
<text x="967" y="1497.5" font-size="14.4" fill="#111" text-anchor="middle">SECTION AG-AG</text>
<text x="967" y="1514.1" font-size="14.4" fill="#111" text-anchor="middle">SCALE 1 : 32</text>
<polygon points="831.4,1520.5 851.3,1553 812.2,1553" fill="none" stroke="#111" stroke-width="1"/>
<text x="831.4" y="1548.4" font-size="18.2" fill="#111" text-anchor="middle">B</text>
<rect x="970.2" y="1004.3" width="109.8" height="20.4" fill="#050505" stroke="none" stroke-width="0"/>
<rect x="972" y="1006.6" width="106" height="1.8" fill="#b8b8c6" stroke="none" stroke-width="0"/>
<rect x="972" y="1010.4" width="106" height="11.8" fill="#cdcddd" stroke="none" stroke-width="0"/>
<rect x="1440.2" y="1004.3" width="103.4" height="20.4" fill="#050505" stroke="none" stroke-width="0"/>
<rect x="1442" y="1006.6" width="99.6" height="1.8" fill="#b8b8c6" stroke="none" stroke-width="0"/>
<rect x="1442" y="1010.4" width="99.6" height="11.8" fill="#cdcddd" stroke="none" stroke-width="0"/>
<line x1="1011" y1="1022.2" x2="1025.75" y2="1010.4" stroke="#111" stroke-width="1.2"/>
<line x1="1037" y1="1022.2" x2="1051.75" y2="1010.4" stroke="#111" stroke-width="1.2"/>
<line x1="1442" y1="1012.6" x2="1444.75" y2="1010.4" stroke="#111" stroke-width="1.2"/>
<line x1="1490" y1="1022.2" x2="1504.75" y2="1010.4" stroke="#111" stroke-width="1.2"/>
<line x1="1517" y1="1022.2" x2="1531.75" y2="1010.4" stroke="#111" stroke-width="1.2"/>
<rect x="1214" y="1018.4" width="4.8" height="6.6" fill="#ddd" stroke="#111" stroke-width="1.4" rx="1"/>
<rect x="1301" y="1018.4" width="4.8" height="6.6" fill="#ddd" stroke="#111" stroke-width="1.4" rx="1"/>
<rect x="970.2" y="1024.4" width="573.4" height="70" fill="#050505" stroke="none" stroke-width="0"/>
<rect x="976.8" y="1031.8" width="564.2" height="56.6" fill="#b1b1be" stroke="none" stroke-width="0"/>
<line x1="976.2" y1="1092.4" x2="1541.6" y2="1092.4" stroke="#b8b8c4" stroke-width="1" stroke-dasharray="24 2.6"/>
<rect x="970.2" y="1094" width="4.6" height="33" fill="#050505" stroke="none" stroke-width="0"/>
<rect x="1541" y="1094" width="2.6" height="8" fill="#050505" stroke="none" stroke-width="0"/>
<rect x="1541" y="1120" width="2.6" height="8" fill="#050505" stroke="none" stroke-width="0"/>
<path d="M979,1094.6 L1538.6,1094.6 Q1542.4,1096 1542.6,1100.6 L1542.6,1120.4 Q1542.4,1125 1538.6,1126.4 L1425.2,1126.4 L1425.2,1141.4 L1093.8,1141.4 L1093.8,1126.4 L979,1126.4 Q975.4,1124.6 975.2,1121.4 L975.2,1099.6 Q975.4,1096.2 979,1094.6 Z" fill="#c9c9d9" stroke="#111" stroke-width="1.6" />
<rect x="970.2" y="1126.2" width="125.2" height="21.6" fill="#050505" stroke="none" stroke-width="0"/>
<rect x="972" y="1129.6" width="120" height="13.4" fill="#cdcddd" stroke="none" stroke-width="0"/>
<rect x="972" y="1143.6" width="121.6" height="2.4" fill="#8e8e9c" stroke="none" stroke-width="0"/>
<rect x="1423.6" y="1126.2" width="120" height="21.6" fill="#050505" stroke="none" stroke-width="0"/>
<rect x="1425.4" y="1129.6" width="116.2" height="13.4" fill="#cdcddd" stroke="none" stroke-width="0"/>
<rect x="1425.4" y="1143.6" width="116.4" height="2.4" fill="#8e8e9c" stroke="none" stroke-width="0"/>
<rect x="1423.6" y="1126.2" width="3.6" height="16" fill="#050505" stroke="none" stroke-width="0"/>
<rect x="1092" y="1126.2" width="3.4" height="16" fill="#050505" stroke="none" stroke-width="0"/>
<line x1="973" y1="1143" x2="989.75" y2="1129.6" stroke="#111" stroke-width="1.2"/>
<line x1="1000" y1="1143" x2="1016.75" y2="1129.6" stroke="#111" stroke-width="1.2"/>
<line x1="1052" y1="1143" x2="1068.75" y2="1129.6" stroke="#111" stroke-width="1.2"/>
<line x1="1079" y1="1143" x2="1092" y2="1132.6" stroke="#111" stroke-width="1.2"/>
<line x1="1450" y1="1143" x2="1466.75" y2="1129.6" stroke="#111" stroke-width="1.2"/>
<line x1="1477" y1="1143" x2="1493.75" y2="1129.6" stroke="#111" stroke-width="1.2"/>
<line x1="1531" y1="1143" x2="1541.6" y2="1134.52" stroke="#111" stroke-width="1.2"/>
<rect x="1093" y="1140.2" width="333" height="9.2" fill="#050505" stroke="none" stroke-width="0"/>
<rect x="1035.4" y="1145.2" width="448" height="4.2" fill="#050505" stroke="none" stroke-width="0"/>
<line x1="1036.4" y1="1146.2" x2="1150" y2="1146.2" stroke="#9a9aa6" stroke-width="1" stroke-dasharray="38 11"/>
<line x1="1150" y1="1146" x2="1482" y2="1146" stroke="#9a9aa6" stroke-width="1.2" stroke-dasharray="31 22"/>
<path d="M1119.8,1142.4 v-3 a10.2,9.6 0 0 1 20.4,0 v3 Z" fill="#fff" stroke="#111" stroke-width="1.8" />
<path d="M1249.7,1142.4 v-3 a10.2,9.6 0 0 1 20.4,0 v3 Z" fill="#fff" stroke="#111" stroke-width="1.8" />
<path d="M1380.1,1142.4 v-3 a10.2,9.6 0 0 1 20.4,0 v3 Z" fill="#fff" stroke="#111" stroke-width="1.8" />
<line x1="963.7" y1="1190.1" x2="1114.7" y2="1190.1" stroke="#111" stroke-width="1.1"/>
<line x1="1114.7" y1="1190.1" x2="1205.6" y2="1094.6" stroke="#111" stroke-width="1.1"/>
<polygon points="1205.6,1094.6 1200.1,1104 1196.48,1100.55" fill="#111"/>
<line x1="1114.7" y1="1190.1" x2="1207.5" y2="1128" stroke="#111" stroke-width="1.1"/>
<line x1="1207.5" y1="1128" x2="1235.7" y2="1141.4" stroke="#111" stroke-width="1.1"/>
<polygon points="1235.7,1141.4 1225.05,1139.11 1227.2,1134.59" fill="#111"/>
<polyline points="1028.2,1190.1 1028.2,1211.4 1048.9,1190.1" fill="none" stroke="#111" stroke-width="1.1"/>
<text x="1000.3" y="1210.7" font-size="14.4" fill="#111">3/16</text>
<text x="1051" y="1210.7" font-size="14.4" fill="#111">3-9</text>
<line x1="1467.5" y1="1112.2" x2="1610.5" y2="1112.2" stroke="#111" stroke-width="1.1"/>
<circle cx="1467.5" cy="1112.2" r="1.3" fill="#111" stroke="#111" stroke-width="0.3"/>
<circle cx="1626.6" cy="1112.2" r="16.1" fill="#fff" stroke="#111" stroke-width="1.1"/>
<text x="1626.6" y="1117.42" font-size="14.5" fill="#111" text-anchor="middle">2</text>
<text x="1284.9" y="1219.9" font-size="14.4" fill="#111" text-anchor="middle">SECTION AH-AH</text>
<text x="1284.9" y="1236.6" font-size="14.4" fill="#111" text-anchor="middle">SCALE 1 : 11</text>
<polygon points="1409.6,1190.6 1428.7,1223.4 1390.8,1223.4" fill="none" stroke="#111" stroke-width="1"/>
<text x="1409.6" y="1218.8" font-size="18.2" fill="#111" text-anchor="middle">B</text>
<rect x="1708.2" y="772.2" width="107.6" height="8.2" fill="#c6c6d6" stroke="none" stroke-width="0"/>
<rect x="1777" y="772.2" width="7.4" height="8.2" fill="#d4d4f4" stroke="none" stroke-width="0"/>
<rect x="1784.4" y="772.2" width="1.6" height="8.2" fill="#f0f0f8" stroke="none" stroke-width="0"/>
<rect x="1708.2" y="964.6" width="107.6" height="8.2" fill="#c6c6d6" stroke="none" stroke-width="0"/>
<rect x="1757.6" y="780.4" width="4" height="184.2" fill="#d0d0e4" stroke="none" stroke-width="0"/>
<line x1="1757.6" y1="780.4" x2="1757.6" y2="964.6" stroke="#a8a8b8" stroke-width="0.6"/>
<line x1="1726" y1="780.8" x2="1734" y2="772" stroke="#111" stroke-width="1.1"/>
<line x1="1805" y1="780.8" x2="1813" y2="772" stroke="#111" stroke-width="1.1"/>
<line x1="1746" y1="973" x2="1754" y2="964.4" stroke="#111" stroke-width="1.1"/>
<line x1="1772" y1="973" x2="1780" y2="964.4" stroke="#111" stroke-width="1.1"/>
<line x1="1757.4" y1="801.6" x2="1762" y2="796.8" stroke="#111" stroke-width="1.1"/>
<line x1="1757.4" y1="828.6" x2="1762" y2="823.8" stroke="#111" stroke-width="1.1"/>
<line x1="1757.4" y1="882.6" x2="1762" y2="877.8" stroke="#111" stroke-width="1.1"/>
<line x1="1757.4" y1="910.6" x2="1762" y2="905.8" stroke="#111" stroke-width="1.1"/>
<line x1="1757.4" y1="961.6" x2="1762" y2="956.8" stroke="#111" stroke-width="1.1"/>
<path d="M1719.6,781.4 L1725.8,781.4 L1725.8,790 L1723.4,795 L1723.4,815 L1719.6,815 Z" fill="#dedeee" stroke="#b8b8c8" stroke-width="0.5" />
<rect x="1741" y="816.2" width="16.6" height="5.6" fill="#dcdcec" stroke="#b8b8c8" stroke-width="0.5"/>
<path d="M1733.3,807.8 L1733.3,857 L1704.6,893.6" fill="none" stroke="#8e8e98" stroke-width="15.6" stroke-linecap="round" stroke-linejoin="round"/>
<path d="M1733.3,807.8 L1733.3,857 L1704.6,893.6" fill="none" stroke="#b4b4bc" stroke-width="13.8" stroke-linecap="round" stroke-linejoin="round"/>
<path d="M1732.2,807.8 L1732.2,856.6 L1703.6,893" fill="none" stroke="#d6d6da" stroke-width="7" stroke-linecap="round" stroke-linejoin="round"/>
<path d="M1731.6,807.8 L1731.6,856.4 L1703.2,892.6" fill="none" stroke="#ececee" stroke-width="2.4" stroke-linecap="round" stroke-linejoin="round"/>
<polygon points="1739.6,810 1742,812 1742,861 1737,867" fill="#d4d4ea" stroke="#b0b0c4" stroke-width="0.4"/>
<text x="1584.2" y="711.9" font-size="20.95" fill="#111" text-anchor="middle">13/16&quot;</text>
<text x="1584" y="736.2" font-size="20.95" fill="#111" text-anchor="middle">OFFSET</text>
<line x1="1707.4" y1="703" x2="1707.4" y2="762.8" stroke="#111" stroke-width="1.1"/>
<line x1="1721.3" y1="703" x2="1721.3" y2="772" stroke="#111" stroke-width="1.1"/>
<line x1="1624.6" y1="716.9" x2="1707.4" y2="716.9" stroke="#111" stroke-width="1.1"/>
<polygon points="1707.4,716.9 1696.8,719.4 1696.8,714.4" fill="#111"/>
<line x1="1721.3" y1="716.9" x2="1739.8" y2="716.9" stroke="#111" stroke-width="1.1"/>
<polygon points="1721.3,716.9 1731.9,714.4 1731.9,719.4" fill="#111"/>
<line x1="1570.8" y1="791.3" x2="1718.7" y2="807" stroke="#111" stroke-width="1.1"/>
<polygon points="1718.7,807 1707.9,808.37 1708.42,803.4" fill="#111"/>
<circle cx="1554.8" cy="789.8" r="16.1" fill="#fff" stroke="#111" stroke-width="1.1"/>
<text x="1554.8" y="795.02" font-size="14.5" fill="#111" text-anchor="middle">7</text>
<line x1="1799.6" y1="870.8" x2="1741" y2="856.9" stroke="#111" stroke-width="1.1"/>
<polygon points="1741,856.9 1751.89,856.91 1750.74,861.78" fill="#111"/>
<circle cx="1815.1" cy="874.7" r="16.1" fill="#fff" stroke="#111" stroke-width="1.1"/>
<text x="1815.1" y="879.92" font-size="14.5" fill="#111" text-anchor="middle">8</text>
<line x1="1471.7" y1="863" x2="1622.2" y2="863" stroke="#111" stroke-width="1.1"/>
<line x1="1471.7" y1="863" x2="1450" y2="841.8" stroke="#111" stroke-width="1.1"/>
<line x1="1471.7" y1="863" x2="1450" y2="884.6" stroke="#111" stroke-width="1.1"/>
<text x="1419.3" y="868.7" font-size="14.4" fill="#111">TYP</text>
<polyline points="1536.4,863 1536.4,884.6 1557.6,863" fill="none" stroke="#111" stroke-width="1.1"/>
<text x="1508.5" y="883.3" font-size="14.4" fill="#111">3/16</text>
<line x1="1622.2" y1="863" x2="1724.6" y2="781.6" stroke="#111" stroke-width="1.1"/>
<polygon points="1724.6,781.6 1717.86,790.15 1714.75,786.24" fill="#111"/>
<line x1="1622.2" y1="863" x2="1758" y2="822.3" stroke="#111" stroke-width="1.1"/>
<polygon points="1758,822.3 1748.56,827.74 1747.13,822.95" fill="#111"/>
<text x="1769.4" y="1031.7" font-size="14.4" fill="#111" text-anchor="middle">SECTION AM-AM</text>
<text x="1769.4" y="1047.9" font-size="14.4" fill="#111" text-anchor="middle">SCALE 1 : 9</text>
<polygon points="1872.7,977.5 1892,1010.4 1853.9,1010.4" fill="none" stroke="#111" stroke-width="1"/>
<text x="1872.7" y="1005.8" font-size="18.2" fill="#111" text-anchor="middle">B</text>
<path d="M2087,742 a6,3.4 0 0 1 12,0" fill="#bbb" stroke="#111" stroke-width="0.9" />
<path d="M2080,1124.4 a6,3.4 0 0 0 12,0" fill="#bbb" stroke="#111" stroke-width="0.9" />
<rect x="2068.6" y="766.4" width="8.6" height="75.6" fill="#e6e6f0" stroke="#111" stroke-width="1"/>
<rect x="2114.6" y="766.4" width="7.6" height="75.6" fill="#e0e0ee" stroke="#111" stroke-width="1"/>
<rect x="2138.2" y="766.4" width="6.6" height="75.6" fill="#b6b6c4" stroke="none" stroke-width="0"/>
<line x1="2137.6" y1="766.4" x2="2137.6" y2="842" stroke="#111" stroke-width="1.2"/>
<line x1="2147" y1="766.4" x2="2147" y2="842" stroke="#111" stroke-width="3"/>
<rect x="2149.4" y="766.4" width="10.8" height="75.6" fill="#fff" stroke="none" stroke-width="0"/>
<line x1="2072.4" y1="768.4" x2="2072.4" y2="775.4" stroke="#111" stroke-width="1.6"/>
<line x1="2118.4" y1="835" x2="2118.4" y2="842" stroke="#111" stroke-width="1.4"/>
<rect x="2068.6" y="1024" width="8.6" height="76" fill="#e6e6f0" stroke="#111" stroke-width="1"/>
<rect x="2114.6" y="1024" width="7.6" height="76" fill="#e0e0ee" stroke="#111" stroke-width="1"/>
<rect x="2138.2" y="1024" width="6.6" height="76" fill="#b6b6c4" stroke="none" stroke-width="0"/>
<line x1="2137.6" y1="1024" x2="2137.6" y2="1100" stroke="#111" stroke-width="1.2"/>
<line x1="2147" y1="1024" x2="2147" y2="1100" stroke="#111" stroke-width="3"/>
<rect x="2149.4" y="1024" width="10.8" height="76" fill="#fff" stroke="none" stroke-width="0"/>
<line x1="2072.4" y1="1091" x2="2072.4" y2="1098" stroke="#111" stroke-width="1.6"/>
<line x1="2118.4" y1="1024" x2="2118.4" y2="1031" stroke="#111" stroke-width="1.4"/>
<rect x="2068.6" y="742.2" width="91.6" height="24.2" fill="#c6c6d6" stroke="#111" stroke-width="1.3"/>
<rect x="2068.6" y="1100" width="91.6" height="24.2" fill="#c6c6d6" stroke="#111" stroke-width="1.3"/>
<rect x="2068.6" y="842" width="91.6" height="38.6" fill="#cfcfdf" stroke="#111" stroke-width="1.3"/>
<rect x="2068.6" y="979.8" width="91.6" height="44.2" fill="#cfcfdf" stroke="#111" stroke-width="1.3"/>
<rect x="2068.6" y="887.6" width="10" height="85.2" fill="#d4d2d2" stroke="#111" stroke-width="0.9"/>
<rect x="2078.6" y="887.6" width="9.4" height="85.2" fill="#b8b8c4" stroke="#111" stroke-width="0.8"/>
<ellipse cx="2072.6" cy="902.6" rx="1.2" ry="2.8" fill="#222" stroke="#111" stroke-width="0.3"/>
<ellipse cx="2072.6" cy="932.6" rx="1.2" ry="2.8" fill="#222" stroke="#111" stroke-width="0.3"/>
<ellipse cx="2072.6" cy="962.6" rx="1.2" ry="2.8" fill="#222" stroke="#111" stroke-width="0.3"/>
<rect x="2158" y="880.6" width="2.4" height="99.2" fill="#9c9ca8" stroke="none" stroke-width="0"/>
<rect x="2160.2" y="742.2" width="20.6" height="382" fill="#c2c2d2" stroke="#111" stroke-width="1.3"/>
<line x1="2180.8" y1="742.2" x2="2180.8" y2="1124.2" stroke="#111" stroke-width="2.2"/>
<rect x="2087.6" y="882.2" width="77.2" height="102.6" fill="#c9c9d7" stroke="#111" stroke-width="1.8" rx="3"/>
<rect x="2087.6" y="882.2" width="77.2" height="102.6" fill="none" stroke="#c9c9d7" stroke-width="2.2" stroke-dasharray="2 13" rx="3"/>
<circle cx="2092.2" cy="893.6" r="1.9" fill="#3a3a44" stroke="#111" stroke-width="0.8"/>
<circle cx="2092.2" cy="904.9" r="1.9" fill="#3a3a44" stroke="#111" stroke-width="0.8"/>
<circle cx="2092.2" cy="916.2" r="1.9" fill="#3a3a44" stroke="#111" stroke-width="0.8"/>
<circle cx="2092.2" cy="927.5" r="1.9" fill="#3a3a44" stroke="#111" stroke-width="0.8"/>
<circle cx="2092.2" cy="938.8" r="1.9" fill="#3a3a44" stroke="#111" stroke-width="0.8"/>
<circle cx="2092.2" cy="950.1" r="1.9" fill="#3a3a44" stroke="#111" stroke-width="0.8"/>
<circle cx="2092.2" cy="961.4" r="1.9" fill="#3a3a44" stroke="#111" stroke-width="0.8"/>
<circle cx="2092.2" cy="972.7" r="1.9" fill="#3a3a44" stroke="#111" stroke-width="0.8"/>
<circle cx="2103.5" cy="893.6" r="1.9" fill="#3a3a44" stroke="#111" stroke-width="0.8"/>
<circle cx="2103.5" cy="904.9" r="1.9" fill="#3a3a44" stroke="#111" stroke-width="0.8"/>
<circle cx="2103.5" cy="916.2" r="1.9" fill="#3a3a44" stroke="#111" stroke-width="0.8"/>
<circle cx="2103.5" cy="927.5" r="1.9" fill="#3a3a44" stroke="#111" stroke-width="0.8"/>
<circle cx="2103.5" cy="938.8" r="1.9" fill="#3a3a44" stroke="#111" stroke-width="0.8"/>
<circle cx="2103.5" cy="950.1" r="1.9" fill="#3a3a44" stroke="#111" stroke-width="0.8"/>
<circle cx="2103.5" cy="961.4" r="1.9" fill="#3a3a44" stroke="#111" stroke-width="0.8"/>
<circle cx="2103.5" cy="972.7" r="1.9" fill="#3a3a44" stroke="#111" stroke-width="0.8"/>
<circle cx="2114.8" cy="893.6" r="1.9" fill="#3a3a44" stroke="#111" stroke-width="0.8"/>
<circle cx="2114.8" cy="904.9" r="1.9" fill="#3a3a44" stroke="#111" stroke-width="0.8"/>
<circle cx="2114.8" cy="916.2" r="1.9" fill="#3a3a44" stroke="#111" stroke-width="0.8"/>
<circle cx="2114.8" cy="927.5" r="1.9" fill="#3a3a44" stroke="#111" stroke-width="0.8"/>
<circle cx="2114.8" cy="938.8" r="1.9" fill="#3a3a44" stroke="#111" stroke-width="0.8"/>
<circle cx="2114.8" cy="950.1" r="1.9" fill="#3a3a44" stroke="#111" stroke-width="0.8"/>
<circle cx="2114.8" cy="961.4" r="1.9" fill="#3a3a44" stroke="#111" stroke-width="0.8"/>
<circle cx="2114.8" cy="972.7" r="1.9" fill="#3a3a44" stroke="#111" stroke-width="0.8"/>
<circle cx="2126.1" cy="893.6" r="1.9" fill="#3a3a44" stroke="#111" stroke-width="0.8"/>
<circle cx="2126.1" cy="904.9" r="1.9" fill="#3a3a44" stroke="#111" stroke-width="0.8"/>
<circle cx="2126.1" cy="916.2" r="1.9" fill="#3a3a44" stroke="#111" stroke-width="0.8"/>
<circle cx="2126.1" cy="927.5" r="1.9" fill="#3a3a44" stroke="#111" stroke-width="0.8"/>
<circle cx="2126.1" cy="938.8" r="1.9" fill="#3a3a44" stroke="#111" stroke-width="0.8"/>
<circle cx="2126.1" cy="950.1" r="1.9" fill="#3a3a44" stroke="#111" stroke-width="0.8"/>
<circle cx="2126.1" cy="961.4" r="1.9" fill="#3a3a44" stroke="#111" stroke-width="0.8"/>
<circle cx="2126.1" cy="972.7" r="1.9" fill="#3a3a44" stroke="#111" stroke-width="0.8"/>
<circle cx="2137.4" cy="893.6" r="1.9" fill="#3a3a44" stroke="#111" stroke-width="0.8"/>
<circle cx="2137.4" cy="904.9" r="1.9" fill="#3a3a44" stroke="#111" stroke-width="0.8"/>
<circle cx="2137.4" cy="916.2" r="1.9" fill="#3a3a44" stroke="#111" stroke-width="0.8"/>
<circle cx="2137.4" cy="927.5" r="1.9" fill="#3a3a44" stroke="#111" stroke-width="0.8"/>
<circle cx="2137.4" cy="938.8" r="1.9" fill="#3a3a44" stroke="#111" stroke-width="0.8"/>
<circle cx="2137.4" cy="950.1" r="1.9" fill="#3a3a44" stroke="#111" stroke-width="0.8"/>
<circle cx="2137.4" cy="961.4" r="1.9" fill="#3a3a44" stroke="#111" stroke-width="0.8"/>
<circle cx="2137.4" cy="972.7" r="1.9" fill="#3a3a44" stroke="#111" stroke-width="0.8"/>
<circle cx="2148.7" cy="893.6" r="1.9" fill="#3a3a44" stroke="#111" stroke-width="0.8"/>
<circle cx="2148.7" cy="904.9" r="1.9" fill="#3a3a44" stroke="#111" stroke-width="0.8"/>
<circle cx="2148.7" cy="916.2" r="1.9" fill="#3a3a44" stroke="#111" stroke-width="0.8"/>
<circle cx="2148.7" cy="927.5" r="1.9" fill="#3a3a44" stroke="#111" stroke-width="0.8"/>
<circle cx="2148.7" cy="938.8" r="1.9" fill="#3a3a44" stroke="#111" stroke-width="0.8"/>
<circle cx="2148.7" cy="950.1" r="1.9" fill="#3a3a44" stroke="#111" stroke-width="0.8"/>
<circle cx="2148.7" cy="961.4" r="1.9" fill="#3a3a44" stroke="#111" stroke-width="0.8"/>
<circle cx="2148.7" cy="972.7" r="1.9" fill="#3a3a44" stroke="#111" stroke-width="0.8"/>
<rect x="2180.8" y="742.2" width="52.8" height="84.2" fill="#dcdcf6" stroke="#111" stroke-width="1.3" rx="2"/>
<path d="M2180.8,745.4 H2228.2 Q2231,745.4 2231,748.2 V822" fill="none" stroke="#111" stroke-width="1" />
<line x1="2180.8" y1="824.2" x2="2231.6" y2="824.2" stroke="#111" stroke-width="1.8"/>
<rect x="2180.8" y="1040.2" width="52.8" height="84" fill="#dcdcf6" stroke="#111" stroke-width="1.3" rx="2"/>
<path d="M2180.8,1121 H2228.2 Q2231,1121 2231,1118.2 V1044" fill="none" stroke="#111" stroke-width="1" />
<line x1="2180.8" y1="1042.6" x2="2231.6" y2="1042.6" stroke="#111" stroke-width="1.8"/>
<rect x="2228.6" y="756.2" width="5.2" height="6.4" fill="#fff" stroke="#111" stroke-width="1.1" rx="1.6"/>
<rect x="2228.6" y="808.6" width="5.2" height="6.4" fill="#fff" stroke="#111" stroke-width="1.1" rx="1.6"/>
<rect x="2228.6" y="1051.4" width="5.2" height="6.4" fill="#fff" stroke="#111" stroke-width="1.1" rx="1.6"/>
<rect x="2228.6" y="1103.8" width="5.2" height="6.4" fill="#fff" stroke="#111" stroke-width="1.1" rx="1.6"/>
<path d="M2181.2,781.6 a3,3.4 0 0 1 0,6.8 Z" fill="#111" stroke="#111" stroke-width="0.4" />
<path d="M2181.2,1077 a3,3.4 0 0 1 0,6.8 Z" fill="#111" stroke="#111" stroke-width="0.4" />
<rect x="2180.8" y="826.4" width="37" height="24" fill="#e2e2f6" stroke="#111" stroke-width="1"/>
<rect x="2217.8" y="826.4" width="15.8" height="24" fill="#e2e2f6" stroke="#111" stroke-width="1"/>
<ellipse cx="2225.8" cy="833.6" rx="1.3" ry="2.6" fill="#fff" stroke="#111" stroke-width="1"/>
<rect x="2180.8" y="1016.4" width="37" height="24" fill="#e2e2f6" stroke="#111" stroke-width="1"/>
<rect x="2217.8" y="1016.4" width="15.8" height="24" fill="#e2e2f6" stroke="#111" stroke-width="1"/>
<ellipse cx="2225.8" cy="1033.2" rx="1.3" ry="2.6" fill="#fff" stroke="#111" stroke-width="1"/>
<path d="M2180.8,840.2 L2192,841.2 C2204,842.8 2210,849.2 2222,850.8 L2241,851.2 L2241,874.4 L2222,875.4 C2210,876.8 2204,883.8 2192,886.4 L2180.8,888.4 Z" fill="#cfcfdf" stroke="#111" stroke-width="1.2" />
<polygon points="2206,883.4 2264.6,894.4 2269.2,893.8 2270.6,879.8 2222,875.8" fill="#dadaf0" stroke="#111" stroke-width="1.1"/>
<line x1="2208" y1="880.6" x2="2266" y2="890.6" stroke="#111" stroke-width="0.8"/>
<polygon points="2241,850.2 2311.2,850.2 2311.2,884.4 2287.4,884.4 2283.4,881.4 2277.4,881.4 2277.4,877.4 2271.4,877.4 2271.4,872.8 2241,872.8" fill="url(#cylg)" stroke="#111" stroke-width="1.2"/>
<line x1="2305.4" y1="850.2" x2="2305.4" y2="884.4" stroke="#111" stroke-width="0.9"/>
<line x1="2272" y1="852.6" x2="2311" y2="852.6" stroke="#111" stroke-width="0.8"/>
<path d="M2096.4,862.8 L2102.6,853.2 L2241,853.2 L2241,872.4 L2102.6,872.4 L2096.4,862.8 Z" fill="#dedeee" stroke="#111" stroke-width="1.3" />
<line x1="2164.6" y1="853.2" x2="2164.6" y2="872.4" stroke="#111" stroke-width="1"/>
<rect x="2240.6" y="851.8" width="3.4" height="22" fill="#aaa" stroke="#111" stroke-width="1"/>
<path d="M2244,853.2 L2264,853.2 L2267.4,862.8 L2264,872.4 L2244,872.4 Z" fill="#d0d0fa" stroke="#111" stroke-width="1.3" />
<path d="M2180.8,1026.4 L2192,1025.4 C2204,1023.8 2210,1017.4 2222,1015.8 L2241,1015.4 L2241,992.2 L2222,991.2 C2210,989.8 2204,982.8 2192,980.2 L2180.8,978.2 Z" fill="#cfcfdf" stroke="#111" stroke-width="1.2" />
<polygon points="2206,983.2 2264.6,972.2 2269.2,972.8 2270.6,986.8 2222,990.8" fill="#dadaf0" stroke="#111" stroke-width="1.1"/>
<line x1="2208" y1="986" x2="2266" y2="976" stroke="#111" stroke-width="0.8"/>
<polygon points="2241,1016.4 2311.2,1016.4 2311.2,982.2 2287.4,982.2 2283.4,985.2 2277.4,985.2 2277.4,989.2 2271.4,989.2 2271.4,993.8 2241,993.8" fill="url(#cylg)" stroke="#111" stroke-width="1.2"/>
<line x1="2305.4" y1="1016.4" x2="2305.4" y2="982.2" stroke="#111" stroke-width="0.9"/>
<line x1="2272" y1="1014" x2="2311" y2="1014" stroke="#111" stroke-width="0.8"/>
<path d="M2096.4,1003.8 L2102.6,994.2 L2241,994.2 L2241,1013.4 L2102.6,1013.4 L2096.4,1003.8 Z" fill="#dedeee" stroke="#111" stroke-width="1.3" />
<line x1="2164.6" y1="994.2" x2="2164.6" y2="1013.4" stroke="#111" stroke-width="1"/>
<rect x="2240.6" y="992.8" width="3.4" height="22" fill="#aaa" stroke="#111" stroke-width="1"/>
<path d="M2244,994.2 L2264,994.2 L2267.4,1003.8 L2264,1013.4 L2244,1013.4 Z" fill="#d0d0fa" stroke="#111" stroke-width="1.3" />
<text x="2321.2" y="788.8" font-size="20.95" fill="#111">3/4&quot; OFFSET</text>
<line x1="2295.2" y1="782.5" x2="2315.3" y2="782.5" stroke="#111" stroke-width="1.1"/>
<line x1="2295.2" y1="782.5" x2="2295.2" y2="849.6" stroke="#111" stroke-width="1.1"/>
<polygon points="2295.2,849.8 2292.7,839.2 2297.7,839.2" fill="#111"/>
<line x1="2295.2" y1="856" x2="2295.2" y2="872" stroke="#111" stroke-width="1.1"/>
<polygon points="2295.2,855.6 2297.7,863.6 2292.7,863.6" fill="#111"/>
<line x1="2009.4" y1="770.4" x2="2188.2" y2="859.4" stroke="#111" stroke-width="1.1"/>
<circle cx="2188.2" cy="859.4" r="1.3" fill="#111" stroke="#111" stroke-width="0.3"/>
<circle cx="2009.4" cy="770.4" r="16.1" fill="#fff" stroke="#111" stroke-width="1.1"/>
<text x="2009.4" y="775.62" font-size="14.5" fill="#111" text-anchor="middle">10</text>
<line x1="2001.6" y1="951.9" x2="2114.5" y2="1002.4" stroke="#111" stroke-width="1.1"/>
<circle cx="2114.5" cy="1002.4" r="1.3" fill="#111" stroke="#111" stroke-width="0.3"/>
<circle cx="2001.6" cy="951.9" r="16.1" fill="#fff" stroke="#111" stroke-width="1.1"/>
<text x="2001.6" y="957.12" font-size="14.5" fill="#111" text-anchor="middle">10</text>
<line x1="1894.4" y1="1182.8" x2="2044.9" y2="1182.8" stroke="#111" stroke-width="1.1"/>
<circle cx="2044.9" cy="1182.8" r="13.4" fill="none" stroke="#111" stroke-width="1.1"/>
<line x1="2044.9" y1="1182.8" x2="2151.7" y2="1013.6" stroke="#111" stroke-width="1.1"/>
<polygon points="2151.7,1013.6 2148.16,1023.9 2143.93,1021.23" fill="#111"/>
<polyline points="1959.5,1182.8 1959.5,1204.3 1980.2,1182.8" fill="none" stroke="#111" stroke-width="1.1"/>
<text x="1940" y="1203.5" font-size="14.4" fill="#111">1/4</text>
<text x="2195.2" y="1174.7" font-size="14.4" fill="#111" text-anchor="middle">SECTION AJ-AJ</text>
<text x="2195.2" y="1191.4" font-size="14.4" fill="#111" text-anchor="middle">SCALE 1 : 40</text>
<polygon points="2320.5,1190.9 2339.8,1223.1 2301.7,1223.1" fill="none" stroke="#111" stroke-width="1"/>
<text x="2320.5" y="1218.5" font-size="18.2" fill="#111" text-anchor="middle">B</text>
<rect x="94.1" y="54.1" width="2371.4" height="1542.9" fill="none" stroke="#d4d4d4" stroke-width="1.8"/>
<line x1="1821.4" y1="1292.9" x2="2465.5" y2="1292.9" stroke="#d4d4d4" stroke-width="1.6"/>
<line x1="1821.4" y1="1292.9" x2="1821.4" y2="1597" stroke="#d4d4d4" stroke-width="1.6"/>
<line x1="1821.4" y1="1345.7" x2="2465.5" y2="1345.7" stroke="#d4d4d4" stroke-width="1.6"/>
<line x1="1821.4" y1="1392.8" x2="2465.5" y2="1392.8" stroke="#d4d4d4" stroke-width="1.6"/>
<line x1="2050.5" y1="1392.8" x2="2050.5" y2="1597" stroke="#d4d4d4" stroke-width="1.6"/>
<line x1="1821.4" y1="1414.2" x2="2050.5" y2="1414.2" stroke="#d4d4d4" stroke-width="1.6"/>
<line x1="1821.4" y1="1442.8" x2="2050.5" y2="1442.8" stroke="#d4d4d4" stroke-width="1.6"/>
<line x1="1821.4" y1="1470.5" x2="2050.5" y2="1470.5" stroke="#d4d4d4" stroke-width="1.6"/>
<line x1="1907.7" y1="1414.2" x2="1907.7" y2="1470.5" stroke="#d4d4d4" stroke-width="1.6"/>
<line x1="1978.5" y1="1414.2" x2="1978.5" y2="1470.5" stroke="#d4d4d4" stroke-width="1.6"/>
<line x1="2050.5" y1="1488.5" x2="2465.5" y2="1488.5" stroke="#d4d4d4" stroke-width="1.6"/>
<line x1="2050.5" y1="1565" x2="2465.5" y2="1565" stroke="#d4d4d4" stroke-width="1.6"/>
<line x1="2109.9" y1="1488.5" x2="2109.9" y2="1565" stroke="#d4d4d4" stroke-width="1.6"/>
<line x1="2379.7" y1="1488.5" x2="2379.7" y2="1565" stroke="#d4d4d4" stroke-width="1.6"/>
<line x1="2174.1" y1="1565" x2="2174.1" y2="1597" stroke="#d4d4d4" stroke-width="1.6"/>
<line x1="2320.6" y1="1565" x2="2320.6" y2="1597" stroke="#d4d4d4" stroke-width="1.6"/>
<text x="2044.2" y="1318" font-size="28.4" fill="#111" textLength="155.6" lengthAdjust="spacingAndGlyphs">LOAD KING</text>
<text x="2065" y="1338" font-size="12.4" fill="#111" textLength="114.8" lengthAdjust="spacingAndGlyphs">A CTOS COMPANY</text>
<text x="2054.2" y="1356.3" font-size="12" fill="#111" font-weight="bold" textLength="187.9" lengthAdjust="spacingAndGlyphs">PROPRIETARY AND CONFIDENTIAL</text>
<text x="1826.3" y="1369.4" font-size="11.9" fill="#111" textLength="570.6" lengthAdjust="spacingAndGlyphs">THE INFORMATION CONTAINED IN THIS DRAWING IS THE SOLE PROPERTY OF LOAD KING TRAILERS. ANY</text>
<text x="1826.3" y="1384.2" font-size="11.9" fill="#111" textLength="635.7" lengthAdjust="spacingAndGlyphs">REPRODUCTION IN PART OR AS WHOLE WITHOUT THE WRITTEN PERMISSION OF LOAD KING TRAILERS IS PROHIBITED.</text>
<text x="1927.7" y="1410" font-size="13.6" fill="#111" textLength="37.3" lengthAdjust="spacingAndGlyphs">NAME</text>
<text x="2001.3" y="1409.6" font-size="13.6" fill="#111" textLength="31.5" lengthAdjust="spacingAndGlyphs">DATE</text>
<text x="1837.1" y="1435.1" font-size="13.6" fill="#111" textLength="48.6" lengthAdjust="spacingAndGlyphs">DRAWN</text>
<text x="1926.5" y="1431.4" font-size="13.6" fill="#111" textLength="34" lengthAdjust="spacingAndGlyphs">AOC</text>
<text x="1982.8" y="1429.4" font-size="12.6" fill="#111" textLength="63.7" lengthAdjust="spacingAndGlyphs">04/11/2018</text>
<text x="1838" y="1464.2" font-size="13.6" fill="#111" textLength="59.1" lengthAdjust="spacingAndGlyphs">CHECKED</text>
<text x="1827.1" y="1484.2" font-size="12.8" fill="#111" textLength="173.4" lengthAdjust="spacingAndGlyphs">UNLESS OTHERWISE SPECIFIED:</text>
<text x="1827" y="1502.2" font-size="12.8" fill="#111" textLength="166.6" lengthAdjust="spacingAndGlyphs">DIMENSIONS ARE IN INCHES</text>
<text x="1827" y="1517.9" font-size="12.8" fill="#111" textLength="129.5" lengthAdjust="spacingAndGlyphs">TOLERANCES:+/- 1/16</text>
<text x="1827" y="1533.6" font-size="12.8" fill="#111" textLength="85.8" lengthAdjust="spacingAndGlyphs">FRACTIONAL±</text>
<text x="1827" y="1549.3" font-size="12.8" fill="#111" textLength="116.5" lengthAdjust="spacingAndGlyphs">ANGULAR: MACH±</text>
<text x="1962.8" y="1549.3" font-size="12.8" fill="#111" textLength="44.8" lengthAdjust="spacingAndGlyphs">BEND ±</text>
<text x="1827" y="1564.7" font-size="12.8" fill="#111" textLength="132.5" lengthAdjust="spacingAndGlyphs">TWO PLACE DECIMAL</text>
<text x="1976.3" y="1564.7" font-size="12.8" fill="#111">±</text>
<text x="1827" y="1580.7" font-size="12.8" fill="#111" textLength="138.8" lengthAdjust="spacingAndGlyphs">THREE PLACE DECIMAL</text>
<text x="1975.6" y="1580.7" font-size="12.8" fill="#111">±</text>
<text x="1827" y="1594.2" font-size="12.8" fill="#111" textLength="152" lengthAdjust="spacingAndGlyphs">DO NOT SCALE DRAWING</text>
<text x="2062.7" y="1415.7" font-size="18.8" fill="#111" textLength="45.2" lengthAdjust="spacingAndGlyphs">TITLE:</text>
<text x="2112.7" y="1437.9" font-size="21" fill="#111" textLength="300.5" lengthAdjust="spacingAndGlyphs">OVERALL - 503/554 SSSF - 12'-9''</text>
<text x="2114.2" y="1459.4" font-size="21" fill="#111" textLength="297" lengthAdjust="spacingAndGlyphs">GSNK - 8'-6'' X 25'-0'' DECK - 60''</text>
<text x="2216.4" y="1479.9" font-size="21" fill="#111" textLength="92.8" lengthAdjust="spacingAndGlyphs">AXLE C-C</text>
<text x="2062.7" y="1507" font-size="18.8" fill="#111" textLength="32.9" lengthAdjust="spacingAndGlyphs">SIZE</text>
<text x="2067.6" y="1550.7" font-size="45" fill="#111" font-weight="bold" textLength="21.7" lengthAdjust="spacingAndGlyphs" stroke="#111" stroke-width="1.5" stroke-linejoin="round">B</text>
<text x="2115.6" y="1507" font-size="18.8" fill="#111" textLength="102.8" lengthAdjust="spacingAndGlyphs">DWG.  NO.</text>
<text x="2165.6" y="1542.2" font-size="35" fill="#111" textLength="162.7" lengthAdjust="spacingAndGlyphs">FA101505</text>
<text x="2406" y="1507" font-size="18.8" fill="#111" textLength="33.7" lengthAdjust="spacingAndGlyphs">REV</text>
<text x="2413.2" y="1550.7" font-size="45" fill="#111" font-weight="bold" textLength="21.6" lengthAdjust="spacingAndGlyphs" stroke="#111" stroke-width="1.5" stroke-linejoin="round">B</text>
<text x="2064.2" y="1587" font-size="18.8" fill="#111" textLength="106.2" lengthAdjust="spacingAndGlyphs">SCALE: 1:48</text>
<text x="2176.4" y="1584.2" font-size="13.8" fill="#111" textLength="144" lengthAdjust="spacingAndGlyphs">WEIGHT: 19931.063</text>
<text x="2334.9" y="1587" font-size="18.8" fill="#111" textLength="116.8" lengthAdjust="spacingAndGlyphs">SHEET 3 OF 3</text>
</svg>
</body></html>
